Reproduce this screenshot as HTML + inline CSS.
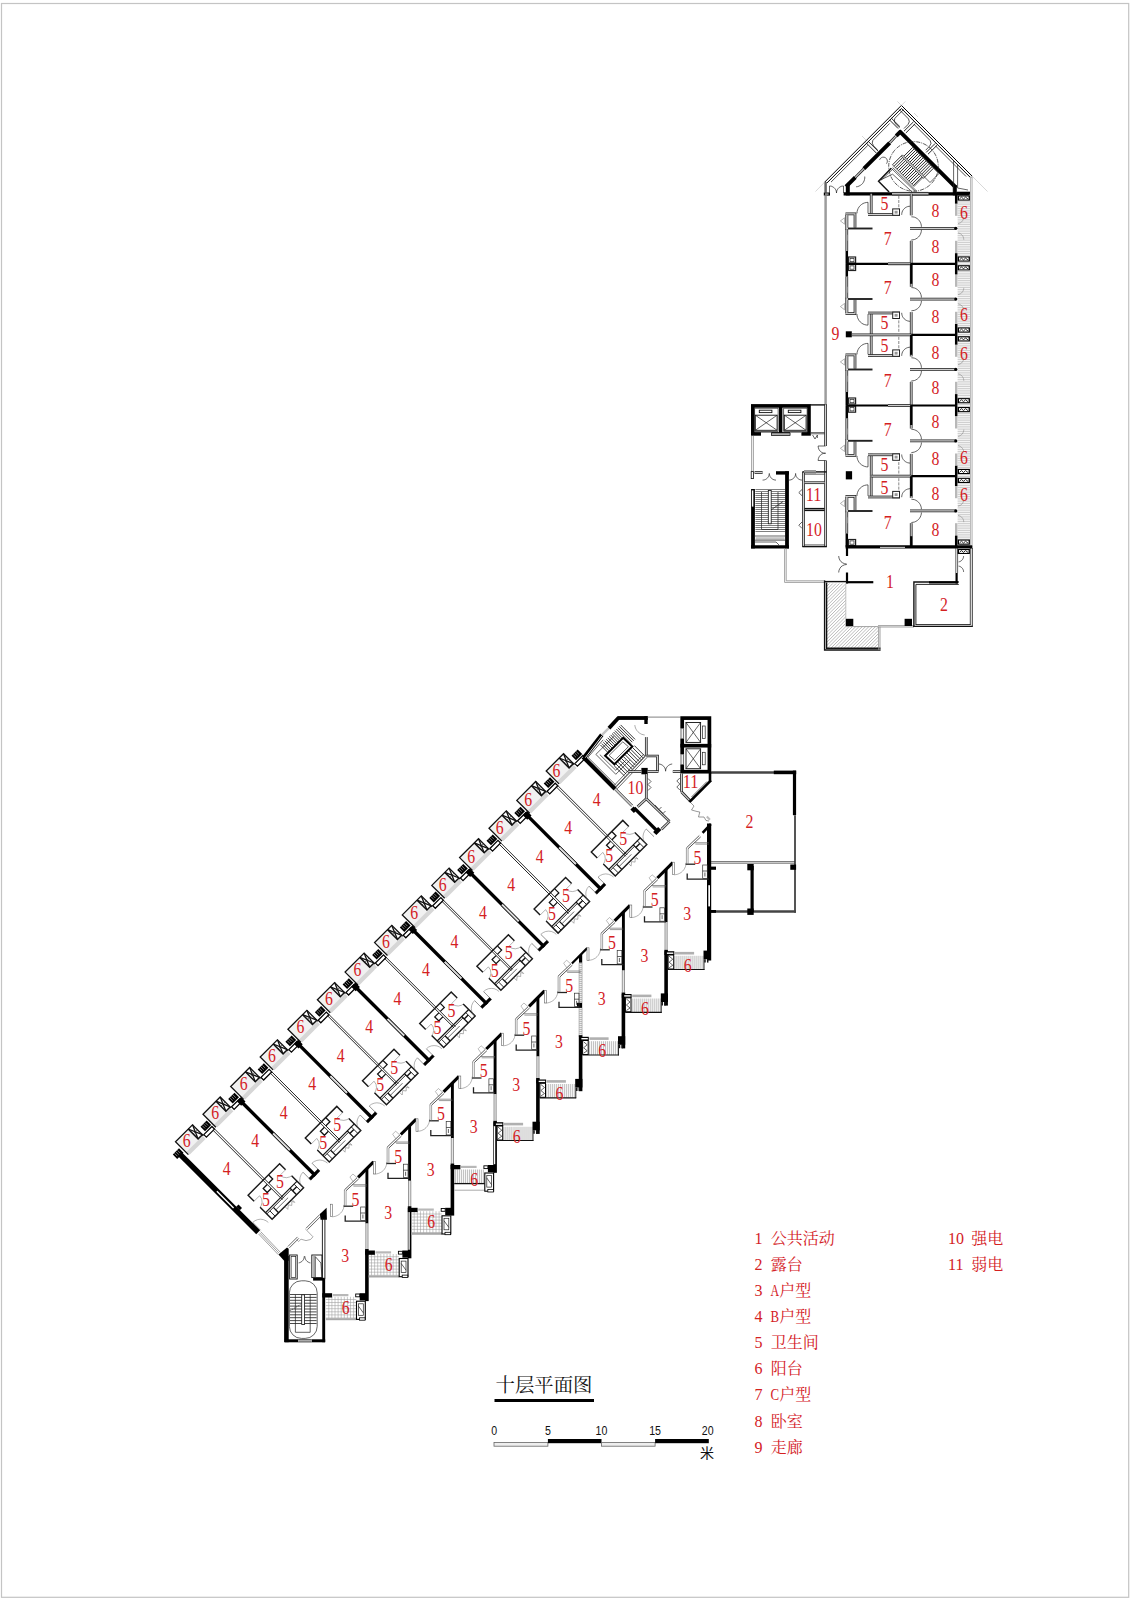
<!DOCTYPE html>
<html lang="zh"><head><meta charset="utf-8"><title>十层平面图</title><style>
html,body{margin:0;padding:0;background:#fff}
svg{display:block}
path,rect,circle{fill:none;stroke-linecap:butt}
.k{stroke:#000;stroke-width:3.2}
.k4{stroke:#000;stroke-width:4}
.k2{stroke:#000;stroke-width:2.2}
.m{stroke:#111;stroke-width:1.4}
.t{stroke:#111;stroke-width:.9}
.t5{stroke:#222;stroke-width:.7}
.g{stroke:#8a8a8a;stroke-width:.8}
.g2{stroke:#a0a0a0;stroke-width:1.6}
.lg{stroke:#bdbdbd;stroke-width:.6}
.w{stroke:#1c1c1c;stroke-width:2.7}
.wi{stroke:#d0d0d0;stroke-width:1.2}
.h{stroke:#6a6a6a;stroke-width:.42}
.hh{stroke:#777;stroke-width:.5}
.bf{fill:#000;stroke:none}
.gf{fill:#c4c4c4;stroke:none}
.wf{fill:#fff;stroke:#111;stroke-width:.8}
.wfill{fill:#fff;stroke:none}
.d{stroke:#333;stroke-width:.6;stroke-dasharray:3 1.2}
.dd{stroke:#222;stroke-width:.75;stroke-dasharray:4 1 1 1}
text{font-family:"Liberation Serif","Noto Serif CJK SC",serif}
.n{fill:#d4211f;font-size:18px;text-anchor:middle}
.lt{fill:#d4211f;font-size:16px}
.ti{fill:#111;font-size:19.4px}
.sc{fill:#111;font-size:13.2px;font-family:"Liberation Sans","Noto Sans CJK SC",sans-serif;text-anchor:middle}
</style></head><body>
<svg width="1131" height="1600" viewBox="0 0 1131 1600">
<rect class="lg" style="stroke:#c4c4c4;stroke-width:1.2" x="1.5" y="3.5" width="1127.2" height="1593.8"/>
<path class="t" style="stroke:#000;stroke-width:1" d="M824.6 182.2L901.4 105.4L972.2 176.2"/>
<path class="t" style="stroke:#000;stroke-width:1" d="M826.8 183.1L901.4 108.5L970 177.1"/>
<path class="g2" style="stroke:#666;stroke-width:2.5" d="M825.6 182L825.6 192.6"/>
<path class="g2" style="stroke:#b0b0b0;stroke-width:2.6" d="M971.3 176.5L971.3 545"/>
<path class="wfill" style="stroke:#ececec;stroke-width:.9" d="M971.3 178L971.3 545"/>
<path class="t" style="stroke:#222;stroke-width:.8" d="M970.3 548L970.3 625"/>
<path class="t" style="stroke:#222;stroke-width:.9" d="M972.3 548L972.3 627"/>
<path class="lg" d="M815.5 191.5L824.6 182.2"/>
<path class="lg" d="M972.2 176.2L987.5 191.5"/>
<path class="lg" d="M897.4 101.4L901.4 105.4"/>
<path class="lg" d="M905.4 101.4L901.4 105.4"/>
<path class="lg" d="M862 136L866 140"/>
<path class="lg" d="M914 113L918 117"/>
<path class="t" d="M866.1 142.8L876.3 153"/>
<path class="t" d="M867.9 141L878.1 151.2"/>
<path class="t" d="M889.4 119.8L898.1 128.5"/>
<path class="t" d="M891.2 118L899.9 126.7"/>
<path class="t" d="M913.5 121.8L904 131.2"/>
<path class="t" d="M915.3 123.6L905.8 133"/>
<path class="t" d="M935.2 143.4L926.2 152.4"/>
<path class="t" d="M937.1 145.2L928 154.2"/>
<path class="t5" style="stroke:#1a1a1a;stroke-width:.75" d="M903.5 109.6L894.9 118.3L894.2 121.1L895.6 123.9L899.5 127.8"/>
<path class="t5" style="stroke:#1a1a1a;stroke-width:.75" d="M889.7 123.4L872.9 140.3L872.2 143.1L873.6 145.9L877.5 149.8"/>
<path class="t5" style="stroke:#1a1a1a;stroke-width:.75" d="M867.8 145.4L831 182.1"/>
<path class="t5" style="stroke:#1a1a1a;stroke-width:.75" d="M899.3 109.6L908.6 119L909.3 121.8L907.9 124.6L904 128.5"/>
<path class="t5" style="stroke:#1a1a1a;stroke-width:.75" d="M913.8 124.1L930.2 140.6L931 143.4L929.5 146.3L925.7 150.2"/>
<path class="t5" style="stroke:#1a1a1a;stroke-width:.75" d="M935.4 145.8L966.1 176.5"/>
<path class="k4" d="M847.8 195.4L847.8 184.9"/>
<path class="k4" d="M846 186.7L855.3 177.4"/>
<path class="k4" d="M863.9 168.7L889.7 142.8"/>
<path class="k4" d="M896.2 135.9L901 131.1"/>
<path class="w" d="M855.3 177.4L863.9 168.7"/>
<path class="wi" d="M855.3 177.4L863.9 168.7"/>
<path class="w" d="M889.7 142.8L896.2 135.9"/>
<path class="wi" d="M889.7 142.8L896.2 135.9"/>
<path class="k4" d="M899.2 130.8L956 187.6"/>
<path class="k4" d="M954.8 185.2L954.8 195.4"/>
<path class="k" d="M843.6 193.8L969.8 193.8"/>
<path class="g2" style="stroke:#bbb;stroke-width:2" d="M892 193.8L928.5 193.8"/>
<path class="t5" d="M892 192.4L928.5 192.4"/>
<path class="t5" d="M892 195.1L928.5 195.1"/>
<rect class="bf" x="823.8" y="192.5" width="6.2" height="3.1"/>
<rect class="wfill" x="825" y="193.6" width="3.6" height="0.9"/>
<path class="t5" d="M829.5 186L830.6 186.1L831.7 186.3L832.7 186.8L833.6 187.3L834.4 188.1L835.2 188.9L835.7 189.8L836.2 190.8L836.4 191.9L836.5 193"/>
<path class="t5" d="M836.5 193L836.6 191.9L836.8 190.8L837.3 189.8L837.8 188.9L838.6 188.1L839.4 187.3L840.3 186.8L841.3 186.3L842.4 186.1L843.5 186"/>
<path class="t5" d="M829.5 193L829.5 186"/>
<path class="t5" d="M843.5 193L843.5 186"/>
<path class="t5" d="M864.7 176.5L864.8 178L864.5 179.5L864.1 180.9L863.4 182.3L862.6 183.5L861.5 184.5L860.3 185.4L859 186.1L857.6 186.6L856.1 186.8"/>
<path class="t5" d="M879.6 159.8L880.3 158.6L881.4 157.7L882.7 157.2L884.1 157.2L885.4 157.7L886.5 158.6L887.1 159.8L887.4 161.1L887.1 162.5L886.5 163.7"/>
<path class="t" d="M903.7 156.4L912.7 147.4M905.2 157.9L914.2 148.9M906.7 159.3L915.7 150.4M908.2 160.8L917.2 151.9M909.7 162.3L918.7 153.3M911.2 163.8L920.1 154.8M912.6 165.3L921.6 156.3M914.1 166.8L923.1 157.8M915.6 168.3L924.6 159.3M917.1 169.7L926.1 160.8M918.6 171.2L927.6 162.2M920.1 172.7L929.0 163.7M921.6 174.2L930.5 165.2M923.0 175.7L932.0 166.7M924.5 177.2L933.5 168.2M901.3 156.0L892.5 164.8M902.8 157.4L894.0 166.3M904.3 158.9L895.5 167.8M905.8 160.4L896.9 169.2M907.3 161.9L898.4 170.7M908.8 163.4L899.9 172.2M910.2 164.9L901.4 173.7M911.7 166.3L902.9 175.2M913.2 167.8L904.4 176.7M914.7 169.3L905.9 178.2M916.2 170.8L907.3 179.6M917.7 172.3L908.8 181.1M919.1 173.8L910.3 182.6M920.6 175.3L911.8 184.1M922.1 176.7L913.3 185.6"/>
<path class="wf" d="M901.3 156L923.5 178.3L924.7 177.2L902.4 154.9Z"/>
<path class="t5" d="M892.5 164.8L914.1 186.4"/>
<path class="t5" d="M912.7 147.4L933.6 168.3"/>
<path class="t5" d="M924.7 177.2L930 182.5L938.9 173.6L933.6 168.3"/>
<path class="t5" d="M914.1 186.4L922.8 177.6"/>
<path class="m" d="M891.2 168.2L878.5 181.3L889.1 192.1"/>
<path class="t5" d="M892.6 169.3L880.6 180.6"/>
<path class="t5" d="M880.6 179.9L892.6 174.2L912.4 192.2"/>
<path class="t5" d="M891.2 168.2L915.3 191.5"/>
<path class="t5" d="M892.6 167.5L916.7 191.2"/>
<circle class="dd" cx="913.5" cy="166.4" r="24.8"/>
<path class="t5" d="M953.6 161L953.6 192"/>
<path class="t5" d="M957.6 165L957.6 188"/>
<path class="t5" d="M957.6 188L968 190"/>
<path class="k2" d="M957 192.8L970 192.8"/>
<path class="g2" style="stroke:#9c9c9c;stroke-width:2.5" d="M825.6 195.6L825.6 404"/>
<path class="h" style="stroke:#a8a8a8;stroke-width:.6" d="M957.6 195.8H970.0M957.6 197.6H970.0M957.6 199.4H970.0M957.6 201.2H970.0M957.6 203.0H970.0M957.6 204.8H970.0M957.6 206.6H970.0M957.6 208.4H970.0M957.6 210.2H970.0M957.6 212.0H970.0M957.6 213.8H970.0M957.6 215.6H970.0M957.6 217.4H970.0M957.6 219.2H970.0M957.6 221.0H970.0M957.6 222.8H970.0M957.6 224.6H970.0M957.6 226.4H970.0M957.6 228.2H970.0M957.6 230.0H970.0M957.6 231.8H970.0M957.6 233.6H970.0M957.6 235.4H970.0M957.6 237.2H970.0M957.6 239.0H970.0M957.6 240.8H970.0M957.6 242.6H970.0M957.6 244.4H970.0M957.6 246.2H970.0M957.6 248.0H970.0M957.6 249.8H970.0M957.6 251.6H970.0M957.6 253.4H970.0M957.6 255.2H970.0M957.6 257.0H970.0M957.6 258.8H970.0M957.6 260.6H970.0M957.6 262.4H970.0M957.6 264.2H970.0M957.6 266.0H970.0M957.6 267.8H970.0M957.6 269.6H970.0M957.6 271.4H970.0M957.6 273.2H970.0M957.6 275.0H970.0M957.6 276.8H970.0M957.6 278.6H970.0M957.6 280.4H970.0M957.6 282.2H970.0M957.6 284.0H970.0M957.6 285.8H970.0M957.6 287.6H970.0M957.6 289.4H970.0M957.6 291.2H970.0M957.6 293.0H970.0M957.6 294.8H970.0M957.6 296.6H970.0M957.6 298.4H970.0M957.6 300.2H970.0M957.6 302.0H970.0M957.6 303.8H970.0M957.6 305.6H970.0M957.6 307.4H970.0M957.6 309.2H970.0M957.6 311.0H970.0M957.6 312.8H970.0M957.6 314.6H970.0M957.6 316.4H970.0M957.6 318.2H970.0M957.6 320.0H970.0M957.6 321.8H970.0M957.6 323.6H970.0M957.6 325.4H970.0M957.6 327.2H970.0M957.6 329.0H970.0M957.6 330.8H970.0M957.6 332.6H970.0M957.6 334.4H970.0M957.6 336.2H970.0M957.6 338.0H970.0M957.6 339.8H970.0M957.6 341.6H970.0M957.6 343.4H970.0M957.6 345.2H970.0M957.6 347.0H970.0M957.6 348.8H970.0M957.6 350.6H970.0M957.6 352.4H970.0M957.6 354.2H970.0M957.6 356.0H970.0M957.6 357.8H970.0M957.6 359.6H970.0M957.6 361.4H970.0M957.6 363.2H970.0M957.6 365.0H970.0M957.6 366.8H970.0M957.6 368.6H970.0M957.6 370.4H970.0M957.6 372.2H970.0M957.6 374.0H970.0M957.6 375.8H970.0M957.6 377.6H970.0M957.6 379.4H970.0M957.6 381.2H970.0M957.6 383.0H970.0M957.6 384.8H970.0M957.6 386.6H970.0M957.6 388.4H970.0M957.6 390.2H970.0M957.6 392.0H970.0M957.6 393.8H970.0M957.6 395.6H970.0M957.6 397.4H970.0M957.6 399.2H970.0M957.6 401.0H970.0M957.6 402.8H970.0M957.6 404.6H970.0M957.6 406.4H970.0M957.6 408.2H970.0M957.6 410.0H970.0M957.6 411.8H970.0M957.6 413.6H970.0M957.6 415.4H970.0M957.6 417.2H970.0M957.6 419.0H970.0M957.6 420.8H970.0M957.6 422.6H970.0M957.6 424.4H970.0M957.6 426.2H970.0M957.6 428.0H970.0M957.6 429.8H970.0M957.6 431.6H970.0M957.6 433.4H970.0M957.6 435.2H970.0M957.6 437.0H970.0M957.6 438.8H970.0M957.6 440.6H970.0M957.6 442.4H970.0M957.6 444.2H970.0M957.6 446.0H970.0M957.6 447.8H970.0M957.6 449.6H970.0M957.6 451.4H970.0M957.6 453.2H970.0M957.6 455.0H970.0M957.6 456.8H970.0M957.6 458.6H970.0M957.6 460.4H970.0M957.6 462.2H970.0M957.6 464.0H970.0M957.6 465.8H970.0M957.6 467.6H970.0M957.6 469.4H970.0M957.6 471.2H970.0M957.6 473.0H970.0M957.6 474.8H970.0M957.6 476.6H970.0M957.6 478.4H970.0M957.6 480.2H970.0M957.6 482.0H970.0M957.6 483.8H970.0M957.6 485.6H970.0M957.6 487.4H970.0M957.6 489.2H970.0M957.6 491.0H970.0M957.6 492.8H970.0M957.6 494.6H970.0M957.6 496.4H970.0M957.6 498.2H970.0M957.6 500.0H970.0M957.6 501.8H970.0M957.6 503.6H970.0M957.6 505.4H970.0M957.6 507.2H970.0M957.6 509.0H970.0M957.6 510.8H970.0M957.6 512.6H970.0M957.6 514.4H970.0M957.6 516.2H970.0M957.6 518.0H970.0M957.6 519.8H970.0M957.6 521.6H970.0M957.6 523.4H970.0M957.6 525.2H970.0M957.6 527.0H970.0M957.6 528.8H970.0M957.6 530.6H970.0M957.6 532.4H970.0M957.6 534.2H970.0M957.6 536.0H970.0M957.6 537.8H970.0M957.6 539.6H970.0M957.6 541.4H970.0M957.6 543.2H970.0M957.6 545.0H970.0"/>
<path class="w" d="M871.2 193.8L871.2 215.3"/>
<path class="wi" d="M871.2 193.8L871.2 215.3"/>
<path class="w" d="M868 214.5L900 214.5"/>
<path class="wi" d="M868 214.5L900 214.5"/>
<path class="d" d="M898.8 195.8L898.8 208.8"/>
<rect class="wf" style="stroke:#222;stroke-width:1" x="892.7" y="208.9" width="6.8" height="6.4"/>
<rect class="gf" style="fill:#999" x="894.6" y="210.8" width="3" height="2.8"/>
<path class="t5" d="M857 213.3L857.1 211.6L857.5 210L858.2 208.4L859.1 206.9L860.2 205.6L861.5 204.5L863 203.5L864.6 202.9L866.3 202.5L868 202.3"/>
<path class="t5" d="M868 213.3L868 202.3"/>
<path class="t5" d="M901.7 214.8L901.8 213.4L902.1 212.1L902.6 210.8L903.3 209.7L904.2 208.7L905.2 207.8L906.4 207.1L907.6 206.6L909 206.3L910.3 206.2"/>
<path class="w" d="M911.2 193.8L911.2 215.3"/>
<path class="wi" d="M911.2 193.8L911.2 215.3"/>
<path class="w" d="M911.2 240.8L911.2 263.8"/>
<path class="wi" d="M911.2 240.8L911.2 263.8"/>
<path class="t5" d="M911.4 216.8L913 216.9L914.5 217.2L915.9 217.8L917.3 218.7L918.5 219.7L919.5 220.9L920.3 222.2L920.9 223.7L921.3 225.2L921.4 226.8"/>
<path class="t5" d="M921.4 229.9L921.3 231.5L920.9 233L920.3 234.5L919.5 235.8L918.5 237L917.3 238L915.9 238.9L914.5 239.5L913 239.8L911.4 239.9"/>
<path class="w" d="M910 228.3L955.8 228.3"/>
<path class="wi" d="M910 228.3L955.8 228.3"/>
<circle class="bf" cx="955.8" cy="228.3" r="1.6"/>
<path class="w" d="M845.5 213.9L855 213.9L855 227.8"/>
<path class="wi" d="M845.5 213.9L855 213.9L855 227.8"/>
<path class="g2" style="stroke:#c8c8c8;stroke-width:2" d="M846.7 214.8L846.7 229.8"/>
<path class="t5" d="M845.6 214.8L845.6 229.8"/>
<path class="t5" d="M847.9 215.2L847.9 227.8"/>
<path class="t5" style="stroke:#666;stroke-width:.5" d="M844.6 217.8L840.4 220.9L844.6 224.2Z"/>
<path class="m" style="stroke:#222;stroke-width:1.9" d="M848 228.5L872.5 228.5"/>
<path class="w" d="M846.8 229.2L846.8 251"/>
<path class="wi" d="M846.8 229.2L846.8 251"/>
<path class="k2" style="stroke-width:2.5" d="M846.8 251L846.8 263.8"/>
<path class="g2" style="stroke:#aaa;stroke-width:1.4" d="M846.8 234.8L846.8 240.8"/>
<rect class="t" style="stroke:#222;stroke-width:1.2" x="848.4" y="257" width="7.2" height="6"/>
<rect class="t5" x="850" y="258.4" width="4" height="3.3"/>
<path class="k2" style="stroke-width:2.5" d="M956.2 193.8L956.2 203.8"/>
<path class="g2" style="stroke:#b8b8b8;stroke-width:2.4" d="M956.2 203.8L956.2 215.8"/>
<path class="g2" style="stroke:#b8b8b8;stroke-width:2.4" d="M956.2 240.8L956.2 253.2"/>
<path class="k2" style="stroke-width:2.5" d="M956.2 253.2L956.2 263.8"/>
<path class="t5" style="stroke:#777;stroke-width:.5" d="M963.8 216.8L963.7 217.7L963.5 218.7L963.2 219.6L962.7 220.5L962.2 221.2L961.5 222L960.7 222.6L959.9 223L959 223.4L958 223.6"/>
<path class="t5" style="stroke:#777;stroke-width:.5" d="M958 232.9L959 233.1L959.9 233.5L960.7 233.9L961.5 234.5L962.2 235.3L962.7 236L963.2 236.9L963.5 237.8L963.7 238.8L963.8 239.8"/>
<path class="w" d="M871.2 334.8L871.2 312.1"/>
<path class="wi" d="M871.2 334.8L871.2 312.1"/>
<path class="w" d="M868 313L900 313"/>
<path class="wi" d="M868 313L900 313"/>
<path class="d" d="M898.8 331.8L898.8 318.8"/>
<rect class="wf" style="stroke:#222;stroke-width:1" x="892.7" y="312.1" width="6.8" height="6.4"/>
<rect class="gf" style="fill:#999" x="894.6" y="313.9" width="3" height="2.8"/>
<path class="t5" d="M857 314.1L857.1 315.9L857.5 317.5L858.2 319.1L859.1 320.6L860.2 321.9L861.5 323L863 324L864.6 324.6L866.3 325L868 325.1"/>
<path class="t5" d="M868 314.1L868 325.1"/>
<path class="t5" d="M901.7 312.8L901.8 314.1L902.1 315.4L902.6 316.7L903.3 317.8L904.2 318.8L905.2 319.7L906.4 320.4L907.6 320.9L909 321.2L910.3 321.4"/>
<path class="w" d="M911.2 334.8L911.2 312.1"/>
<path class="wi" d="M911.2 334.8L911.2 312.1"/>
<path class="w" d="M911.2 286.8L911.2 263.8"/>
<path class="wi" d="M911.2 286.8L911.2 263.8"/>
<path class="t5" d="M911.4 310.8L913 310.6L914.5 310.3L915.9 309.7L917.3 308.8L918.5 307.8L919.5 306.6L920.3 305.3L920.9 303.8L921.3 302.3L921.4 300.8"/>
<path class="t5" d="M921.4 297.6L921.3 296L920.9 294.5L920.3 293L919.5 291.7L918.5 290.5L917.3 289.5L915.9 288.6L914.5 288L913 287.7L911.4 287.6"/>
<path class="w" d="M910 299.1L955.8 299.1"/>
<path class="wi" d="M910 299.1L955.8 299.1"/>
<circle class="bf" cx="955.8" cy="299.1" r="1.6"/>
<path class="w" d="M845.5 313.6L855 313.6L855 299.8"/>
<path class="wi" d="M845.5 313.6L855 313.6L855 299.8"/>
<path class="g2" style="stroke:#c8c8c8;stroke-width:2" d="M846.7 312.8L846.7 297.8"/>
<path class="t5" d="M845.6 312.8L845.6 297.8"/>
<path class="t5" d="M847.9 312.4L847.9 299.8"/>
<path class="t5" style="stroke:#666;stroke-width:.5" d="M844.6 309.8L840.4 306.6L844.6 303.4Z"/>
<path class="m" style="stroke:#222;stroke-width:1.9" d="M848 299L872.5 299"/>
<path class="w" d="M846.8 298.2L846.8 276.5"/>
<path class="wi" d="M846.8 298.2L846.8 276.5"/>
<path class="k2" style="stroke-width:2.5" d="M846.8 276.5L846.8 263.8"/>
<path class="g2" style="stroke:#aaa;stroke-width:1.4" d="M846.8 292.8L846.8 286.8"/>
<rect class="t" style="stroke:#222;stroke-width:1.2" x="848.4" y="264.5" width="7.2" height="6"/>
<rect class="t5" x="850" y="265.9" width="4" height="3.3"/>
<path class="k2" style="stroke-width:2.5" d="M956.2 334.8L956.2 323.8"/>
<path class="g2" style="stroke:#b8b8b8;stroke-width:2.4" d="M956.2 323.8L956.2 311.8"/>
<path class="g2" style="stroke:#b8b8b8;stroke-width:2.4" d="M956.2 286.8L956.2 274.4"/>
<path class="k2" style="stroke-width:2.5" d="M956.2 274.4L956.2 263.8"/>
<path class="t5" style="stroke:#777;stroke-width:.5" d="M963.8 310.8L963.7 309.8L963.5 308.8L963.2 307.9L962.7 307L962.2 306.3L961.5 305.5L960.7 304.9L959.9 304.5L959 304.1L958 303.9"/>
<path class="t5" style="stroke:#777;stroke-width:.5" d="M958 294.6L959 294.4L959.9 294L960.7 293.6L961.5 293L962.2 292.2L962.7 291.5L963.2 290.6L963.5 289.7L963.7 288.7L963.8 287.8"/>
<path class="w" d="M871.2 334.8L871.2 356.4"/>
<path class="wi" d="M871.2 334.8L871.2 356.4"/>
<path class="w" d="M868 355.5L900 355.5"/>
<path class="wi" d="M868 355.5L900 355.5"/>
<path class="d" d="M898.8 336.8L898.8 349.8"/>
<rect class="wf" style="stroke:#222;stroke-width:1" x="892.7" y="349.9" width="6.8" height="6.4"/>
<rect class="gf" style="fill:#999" x="894.6" y="351.8" width="3" height="2.8"/>
<path class="t5" d="M857 354.4L857.1 352.6L857.5 351L858.2 349.4L859.1 347.9L860.2 346.6L861.5 345.5L863 344.5L864.6 343.9L866.3 343.5L868 343.4"/>
<path class="t5" d="M868 354.4L868 343.4"/>
<path class="t5" d="M901.7 355.8L901.8 354.4L902.1 353.1L902.6 351.8L903.3 350.7L904.2 349.7L905.2 348.8L906.4 348.1L907.6 347.6L909 347.3L910.3 347.1"/>
<path class="w" d="M911.2 334.8L911.2 356.4"/>
<path class="wi" d="M911.2 334.8L911.2 356.4"/>
<path class="w" d="M911.2 381.8L911.2 405.5"/>
<path class="wi" d="M911.2 381.8L911.2 405.5"/>
<path class="t5" d="M911.4 357.8L913 357.9L914.5 358.2L915.9 358.8L917.3 359.7L918.5 360.7L919.5 361.9L920.3 363.2L920.9 364.7L921.3 366.2L921.4 367.8"/>
<path class="t5" d="M921.4 370.9L921.3 372.5L920.9 374L920.3 375.5L919.5 376.8L918.5 378L917.3 379L915.9 379.9L914.5 380.5L913 380.8L911.4 380.9"/>
<path class="w" d="M910 369.4L955.8 369.4"/>
<path class="wi" d="M910 369.4L955.8 369.4"/>
<circle class="bf" cx="955.8" cy="369.4" r="1.6"/>
<path class="w" d="M845.5 354.9L855 354.9L855 368.8"/>
<path class="wi" d="M845.5 354.9L855 354.9L855 368.8"/>
<path class="g2" style="stroke:#c8c8c8;stroke-width:2" d="M846.7 355.8L846.7 370.8"/>
<path class="t5" d="M845.6 355.8L845.6 370.8"/>
<path class="t5" d="M847.9 356.1L847.9 368.8"/>
<path class="t5" style="stroke:#666;stroke-width:.5" d="M844.6 358.8L840.4 361.9L844.6 365.1Z"/>
<path class="m" style="stroke:#222;stroke-width:1.9" d="M848 369.5L872.5 369.5"/>
<path class="w" d="M846.8 370.2L846.8 392"/>
<path class="wi" d="M846.8 370.2L846.8 392"/>
<path class="k2" style="stroke-width:2.5" d="M846.8 392L846.8 405.5"/>
<path class="g2" style="stroke:#aaa;stroke-width:1.4" d="M846.8 375.8L846.8 381.8"/>
<rect class="t" style="stroke:#222;stroke-width:1.2" x="848.4" y="398" width="7.2" height="6"/>
<rect class="t5" x="850" y="399.4" width="4" height="3.3"/>
<path class="k2" style="stroke-width:2.5" d="M956.2 334.8L956.2 344.8"/>
<path class="g2" style="stroke:#b8b8b8;stroke-width:2.4" d="M956.2 344.8L956.2 356.8"/>
<path class="g2" style="stroke:#b8b8b8;stroke-width:2.4" d="M956.2 381.8L956.2 394.1"/>
<path class="k2" style="stroke-width:2.5" d="M956.2 394.1L956.2 405.5"/>
<path class="t5" style="stroke:#777;stroke-width:.5" d="M963.8 357.8L963.7 358.7L963.5 359.7L963.2 360.6L962.7 361.5L962.2 362.2L961.5 363L960.7 363.6L959.9 364L959 364.4L958 364.6"/>
<path class="t5" style="stroke:#777;stroke-width:.5" d="M958 373.9L959 374.1L959.9 374.5L960.7 374.9L961.5 375.5L962.2 376.3L962.7 377L963.2 377.9L963.5 378.8L963.7 379.8L963.8 380.8"/>
<path class="w" d="M871.2 476.2L871.2 453.9"/>
<path class="wi" d="M871.2 476.2L871.2 453.9"/>
<path class="w" d="M868 454.8L900 454.8"/>
<path class="wi" d="M868 454.8L900 454.8"/>
<path class="d" d="M898.8 473.5L898.8 460.5"/>
<rect class="wf" style="stroke:#222;stroke-width:1" x="892.7" y="453.9" width="6.8" height="6.4"/>
<rect class="gf" style="fill:#999" x="894.6" y="455.7" width="3" height="2.8"/>
<path class="t5" d="M857 455.9L857.1 457.6L857.5 459.3L858.2 460.9L859.1 462.4L860.2 463.7L861.5 464.8L863 465.7L864.6 466.4L866.3 466.8L868 466.9"/>
<path class="t5" d="M868 455.9L868 466.9"/>
<path class="t5" d="M901.7 454.5L901.8 455.8L902.1 457.2L902.6 458.4L903.3 459.6L904.2 460.6L905.2 461.5L906.4 462.2L907.6 462.7L909 463L910.3 463.1"/>
<path class="w" d="M911.2 476.2L911.2 453.9"/>
<path class="wi" d="M911.2 476.2L911.2 453.9"/>
<path class="w" d="M911.2 428.5L911.2 405.5"/>
<path class="wi" d="M911.2 428.5L911.2 405.5"/>
<path class="t5" d="M911.4 452.5L913 452.4L914.5 452L915.9 451.4L917.3 450.6L918.5 449.6L919.5 448.4L920.3 447L920.9 445.6L921.3 444.1L921.4 442.5"/>
<path class="t5" d="M921.4 439.3L921.3 437.7L920.9 436.2L920.3 434.8L919.5 433.4L918.5 432.2L917.3 431.2L915.9 430.4L914.5 429.8L913 429.4L911.4 429.3"/>
<path class="w" d="M910 440.9L955.8 440.9"/>
<path class="wi" d="M910 440.9L955.8 440.9"/>
<circle class="bf" cx="955.8" cy="440.9" r="1.6"/>
<path class="w" d="M845.5 455.3L855 455.3L855 441.5"/>
<path class="wi" d="M845.5 455.3L855 455.3L855 441.5"/>
<path class="g2" style="stroke:#c8c8c8;stroke-width:2" d="M846.7 454.5L846.7 439.5"/>
<path class="t5" d="M845.6 454.5L845.6 439.5"/>
<path class="t5" d="M847.9 454.1L847.9 441.5"/>
<path class="t5" style="stroke:#666;stroke-width:.5" d="M844.6 451.5L840.4 448.3L844.6 445.1Z"/>
<path class="m" style="stroke:#222;stroke-width:1.9" d="M848 440.8L872.5 440.8"/>
<path class="w" d="M846.8 440L846.8 418.2"/>
<path class="wi" d="M846.8 440L846.8 418.2"/>
<path class="k2" style="stroke-width:2.5" d="M846.8 418.2L846.8 405.5"/>
<path class="g2" style="stroke:#aaa;stroke-width:1.4" d="M846.8 434.5L846.8 428.5"/>
<rect class="t" style="stroke:#222;stroke-width:1.2" x="848.4" y="406.2" width="7.2" height="6"/>
<rect class="t5" x="850" y="407.6" width="4" height="3.3"/>
<path class="k2" style="stroke-width:2.5" d="M956.2 476.2L956.2 465.5"/>
<path class="g2" style="stroke:#b8b8b8;stroke-width:2.4" d="M956.2 465.5L956.2 453.5"/>
<path class="g2" style="stroke:#b8b8b8;stroke-width:2.4" d="M956.2 428.5L956.2 416.1"/>
<path class="k2" style="stroke-width:2.5" d="M956.2 416.1L956.2 405.5"/>
<path class="t5" style="stroke:#777;stroke-width:.5" d="M963.8 452.5L963.7 451.5L963.5 450.6L963.2 449.7L962.7 448.8L962.2 448L961.5 447.3L960.7 446.7L959.9 446.2L959 445.8L958 445.6"/>
<path class="t5" style="stroke:#777;stroke-width:.5" d="M958 436.4L959 436.2L959.9 435.8L960.7 435.3L961.5 434.7L962.2 434L962.7 433.2L963.2 432.3L963.5 431.4L963.7 430.5L963.8 429.5"/>
<path class="w" d="M871.2 476.2L871.2 497.9"/>
<path class="wi" d="M871.2 476.2L871.2 497.9"/>
<path class="w" d="M868 497L900 497"/>
<path class="wi" d="M868 497L900 497"/>
<path class="d" d="M898.8 478.2L898.8 491.2"/>
<rect class="wf" style="stroke:#222;stroke-width:1" x="892.7" y="491.4" width="6.8" height="6.4"/>
<rect class="gf" style="fill:#999" x="894.6" y="493.2" width="3" height="2.8"/>
<path class="t5" d="M857 495.9L857.1 494.1L857.5 492.5L858.2 490.9L859.1 489.4L860.2 488.1L861.5 487L863 486L864.6 485.4L866.3 485L868 484.9"/>
<path class="t5" d="M868 495.9L868 484.9"/>
<path class="t5" d="M901.7 497.2L901.8 495.9L902.1 494.6L902.6 493.3L903.3 492.2L904.2 491.2L905.2 490.3L906.4 489.6L907.6 489.1L909 488.8L910.3 488.6"/>
<path class="w" d="M911.2 476.2L911.2 497.9"/>
<path class="wi" d="M911.2 476.2L911.2 497.9"/>
<path class="w" d="M911.2 523.2L911.2 546.8"/>
<path class="wi" d="M911.2 523.2L911.2 546.8"/>
<path class="t5" d="M911.4 499.2L913 499.4L914.5 499.7L915.9 500.3L917.3 501.2L918.5 502.2L919.5 503.4L920.3 504.7L920.9 506.2L921.3 507.7L921.4 509.2"/>
<path class="t5" d="M921.4 512.5L921.3 514L920.9 515.5L920.3 517L919.5 518.3L918.5 519.5L917.3 520.5L915.9 521.4L914.5 522L913 522.3L911.4 522.5"/>
<path class="w" d="M910 510.9L955.8 510.9"/>
<path class="wi" d="M910 510.9L955.8 510.9"/>
<circle class="bf" cx="955.8" cy="510.9" r="1.6"/>
<path class="w" d="M845.5 496.4L855 496.4L855 510.2"/>
<path class="wi" d="M845.5 496.4L855 496.4L855 510.2"/>
<path class="g2" style="stroke:#c8c8c8;stroke-width:2" d="M846.7 497.2L846.7 512.2"/>
<path class="t5" d="M845.6 497.2L845.6 512.2"/>
<path class="t5" d="M847.9 497.6L847.9 510.2"/>
<path class="t5" style="stroke:#666;stroke-width:.5" d="M844.6 500.2L840.4 503.4L844.6 506.6Z"/>
<path class="m" style="stroke:#222;stroke-width:1.9" d="M848 511L872.5 511"/>
<path class="w" d="M846.8 511.8L846.8 533.5"/>
<path class="wi" d="M846.8 511.8L846.8 533.5"/>
<path class="k2" style="stroke-width:2.5" d="M846.8 533.5L846.8 546.8"/>
<path class="g2" style="stroke:#aaa;stroke-width:1.4" d="M846.8 517.2L846.8 523.2"/>
<rect class="t" style="stroke:#222;stroke-width:1.2" x="848.4" y="539.5" width="7.2" height="6"/>
<rect class="t5" x="850" y="540.9" width="4" height="3.3"/>
<path class="k2" style="stroke-width:2.5" d="M956.2 476.2L956.2 486.2"/>
<path class="g2" style="stroke:#b8b8b8;stroke-width:2.4" d="M956.2 486.2L956.2 498.2"/>
<path class="g2" style="stroke:#b8b8b8;stroke-width:2.4" d="M956.2 523.2L956.2 535.6"/>
<path class="k2" style="stroke-width:2.5" d="M956.2 535.6L956.2 546.8"/>
<path class="t5" style="stroke:#777;stroke-width:.5" d="M963.8 499.2L963.7 500.2L963.5 501.2L963.2 502.1L962.7 503L962.2 503.7L961.5 504.5L960.7 505.1L959.9 505.5L959 505.9L958 506.1"/>
<path class="t5" style="stroke:#777;stroke-width:.5" d="M958 515.4L959 515.6L959.9 516L960.7 516.4L961.5 517L962.2 517.8L962.7 518.5L963.2 519.4L963.5 520.3L963.7 521.3L963.8 522.2"/>
<rect class="bf" x="957.6" y="195.4" width="12.3" height="5.2"/>
<rect class="wfill" x="959" y="196.5" width="9.6" height="3"/>
<path class="m" style="stroke-width:.9" d="M959.4 199L961.5 197.1L963.5 199L965.5 197.1L968 199"/>
<rect class="bf" x="957.6" y="256.4" width="12.3" height="5.2"/>
<rect class="wfill" x="959" y="257.5" width="9.6" height="3"/>
<path class="m" style="stroke-width:.9" d="M959.4 260L961.5 258.1L963.5 260L965.5 258.1L968 260"/>
<rect class="bf" x="957.6" y="265.2" width="12.3" height="5.2"/>
<rect class="wfill" x="959" y="266.4" width="9.6" height="3"/>
<path class="m" style="stroke-width:.9" d="M959.4 268.9L961.5 266.9L963.5 268.9L965.5 266.9L968 268.9"/>
<rect class="bf" x="957.6" y="327.4" width="12.3" height="5.2"/>
<rect class="wfill" x="959" y="328.5" width="9.6" height="3"/>
<path class="m" style="stroke-width:.9" d="M959.4 331L961.5 329.1L963.5 331L965.5 329.1L968 331"/>
<rect class="bf" x="957.6" y="336.2" width="12.3" height="5.2"/>
<rect class="wfill" x="959" y="337.4" width="9.6" height="3"/>
<path class="m" style="stroke-width:.9" d="M959.4 339.9L961.5 337.9L963.5 339.9L965.5 337.9L968 339.9"/>
<rect class="bf" x="957.6" y="398.1" width="12.3" height="5.2"/>
<rect class="wfill" x="959" y="399.2" width="9.6" height="3"/>
<path class="m" style="stroke-width:.9" d="M959.4 401.7L961.5 399.8L963.5 401.7L965.5 399.8L968 401.7"/>
<rect class="bf" x="957.6" y="407" width="12.3" height="5.2"/>
<rect class="wfill" x="959" y="408.1" width="9.6" height="3"/>
<path class="m" style="stroke-width:.9" d="M959.4 410.6L961.5 408.7L963.5 410.6L965.5 408.7L968 410.6"/>
<rect class="bf" x="957.6" y="468.9" width="12.3" height="5.2"/>
<rect class="wfill" x="959" y="470" width="9.6" height="3"/>
<path class="m" style="stroke-width:.9" d="M959.4 472.5L961.5 470.6L963.5 472.5L965.5 470.6L968 472.5"/>
<rect class="bf" x="957.6" y="477.8" width="12.3" height="5.2"/>
<rect class="wfill" x="959" y="478.9" width="9.6" height="3"/>
<path class="m" style="stroke-width:.9" d="M959.4 481.4L961.5 479.4L963.5 481.4L965.5 479.4L968 481.4"/>
<rect class="bf" x="957.6" y="539.5" width="12.3" height="5.2"/>
<rect class="wfill" x="959" y="540.6" width="9.6" height="3"/>
<path class="m" style="stroke-width:.9" d="M959.4 543.1L961.5 541.2L963.5 543.1L965.5 541.2L968 543.1"/>
<path class="k2" d="M846.2 263.8L956.8 263.8"/>
<path class="g2" style="stroke:#ccc;stroke-width:1.6" d="M888 263.8L910.3 263.8"/>
<path class="t5" d="M888 262.8L910.3 262.8"/>
<path class="t5" d="M888 264.8L910.3 264.8"/>
<path class="k2" d="M911.2 263.8L911.2 283.8"/>
<path class="k2" d="M911.2 334.8L956.8 334.8"/>
<path class="w" d="M852 334.8L911.2 334.8"/>
<path class="wi" d="M852 334.8L911.2 334.8"/>
<rect class="bf" x="845.8" y="331.3" width="6" height="6"/>
<path class="k2" d="M911.2 334.8L911.2 354.8"/>
<path class="k2" d="M846.2 405.5L956.8 405.5"/>
<path class="g2" style="stroke:#ccc;stroke-width:1.6" d="M888 405.5L910.3 405.5"/>
<path class="t5" d="M888 404.5L910.3 404.5"/>
<path class="t5" d="M888 406.5L910.3 406.5"/>
<path class="k2" d="M911.2 405.5L911.2 425"/>
<path class="k2" d="M911.2 476.2L956.8 476.2"/>
<path class="w" d="M871.3 476.2L911.2 476.2"/>
<path class="wi" d="M871.3 476.2L911.2 476.2"/>
<rect class="bf" x="845.8" y="471.2" width="6.3" height="8.2"/>
<path class="k2" d="M911.2 476.2L911.2 496.2"/>
<path class="k2" d="M911.2 536.2L911.2 546.8"/>
<path class="k" style="stroke-width:3.3" d="M845.6 546.8L972.4 546.8"/>
<path class="g2" style="stroke:#bbb;stroke-width:1.2" d="M880 547.4L905 547.4"/>
<rect class="k" style="stroke-width:3.6" x="752.8" y="405.9" width="56.2" height="28"/>
<path class="k" style="stroke-width:3.4" d="M780.7 405L780.7 434"/>
<rect class="wfill" x="761" y="431.6" width="10.2" height="4.6"/>
<rect class="wfill" x="790.2" y="431.6" width="11.2" height="4.6"/>
<path class="t5" d="M761 432.2L771.2 432.2"/>
<path class="t5" d="M790.2 432.2L801.4 432.2"/>
<rect class="gf" x="771.4" y="433" width="18.6" height="2.2"/>
<rect class="t5" x="771.4" y="433" width="18.6" height="2.2"/>
<rect class="t5" x="754.7" y="408.2" width="23.4" height="23.2"/>
<rect class="t" x="755.3" y="415.2" width="21.8" height="15.1"/>
<path class="t5" d="M755.3 415.2L777.1 430.3"/>
<path class="t5" d="M777.1 415.2L755.3 430.3"/>
<rect class="t" x="759.3" y="410.2" width="12.6" height="2.4"/>
<rect class="t5" x="783.7" y="408.2" width="23.4" height="23.2"/>
<rect class="t" x="784.3" y="415.2" width="21.8" height="15.1"/>
<path class="t5" d="M784.3 415.2L806.1 430.3"/>
<path class="t5" d="M806.1 415.2L784.3 430.3"/>
<rect class="t" x="788.3" y="410.2" width="12.6" height="2.4"/>
<path class="m" d="M810 404.9L826.8 404.9"/>
<path class="w" d="M825.6 404.5L825.6 446"/>
<path class="wi" d="M825.6 404.5L825.6 446"/>
<path class="w" d="M825.6 460.5L825.6 547"/>
<path class="wi" d="M825.6 460.5L825.6 547"/>
<path class="t5" d="M810.8 432.6L824.6 432.6"/>
<path class="t5" d="M810.8 433.8L824.6 433.8"/>
<path class="t5" d="M812.6 435L815 439L817.4 435"/>
<path class="t5" d="M817.4 435L817.4 438"/>
<path class="t5" d="M825.6 453.5L823.7 453.2L821.9 452.5L820.3 451.3L819.1 449.8L818.4 447.9L818.1 446"/>
<path class="t5" d="M818.1 460.5L818.4 458.6L819.1 456.8L820.3 455.2L821.9 454L823.7 453.3L825.6 453"/>
<path class="t5" d="M825.6 446L818.1 446"/>
<path class="t5" d="M825.6 460.5L818.1 460.5"/>
<path class="g" d="M751.6 436L751.6 472"/>
<path class="g" d="M753.4 436L753.4 472"/>
<path class="k" style="stroke-width:3.8" d="M753 489L753 548.4"/>
<rect class="wf" x="751.2" y="471.6" width="2.2" height="7"/>
<rect class="wf" x="751.4" y="490" width="2.4" height="17"/>
<path class="k" d="M751 546.8L789 546.8"/>
<path class="k" style="stroke-width:3.8" d="M787 471.3L787 548.4"/>
<path class="k" style="stroke-width:3.4" d="M776 472.9L788.9 472.9"/>
<path class="w" d="M754.6 472.5L762.6 472.5"/>
<path class="wi" d="M754.6 472.5L762.6 472.5"/>
<path class="t5" d="M769.2 473.5L769.1 474.5L768.9 475.5L768.5 476.5L767.9 477.4L767.3 478.2L766.5 478.8L765.6 479.4L764.6 479.8L763.6 480L762.6 480.1"/>
<path class="t5" d="M776 480.1L775 480L774 479.8L773 479.4L772.1 478.8L771.3 478.2L770.7 477.4L770.1 476.5L769.7 475.5L769.5 474.5L769.4 473.5"/>
<path class="t5" style="stroke:#3a3a3a;stroke-width:.65" d="M755.4 489.5H785M755.4 491.5H785M755.4 493.5H785M755.4 495.5H785M755.4 497.5H785M755.4 499.5H785M755.4 501.5H785M755.4 503.5H785M755.4 505.5H785M755.4 507.5H785M755.4 509.5H785M755.4 511.5H785M755.4 513.5H785M755.4 515.5H785M755.4 517.5H785M755.4 519.5H785M755.4 521.5H785M755.4 523.5H785M755.4 525.5H785M755.4 527.5H785M755.4 529.5H785M755.4 531.5H785"/>
<rect class="wf" x="768.3" y="490.4" width="2.9" height="33.4"/>
<path class="t5" d="M761.5 492L761.5 529.5L778 529.5L778 492"/>
<path class="t5" d="M755 536L785 536"/>
<rect class="gf" x="755.6" y="537.2" width="29" height="2.6"/>
<path class="t5" d="M755 540.2L785 540.2"/>
<path class="t5" d="M755 542L776 542L779 545"/>
<path class="t5" d="M771 510L783 501.5"/>
<path class="t5" d="M795.6 473.5L795.5 474.5L795.3 475.5L794.9 476.5L794.3 477.4L793.7 478.2L792.9 478.8L792 479.4L791 479.8L790 480L789 480.1"/>
<path class="t5" d="M802.2 480.1L801.2 480L800.2 479.8L799.2 479.4L798.3 478.8L797.5 478.2L796.9 477.4L796.3 476.5L795.9 475.5L795.7 474.5L795.6 473.5"/>
<path class="w" d="M803.5 471.8L803.5 547"/>
<path class="wi" d="M803.5 471.8L803.5 547"/>
<path class="m" d="M802.4 471.9L826.6 471.9"/>
<path class="w" d="M804 471.9L816 471.9"/>
<path class="wi" d="M804 471.9L816 471.9"/>
<path class="t5" d="M804.5 474.2L824.6 474.2"/>
<path class="w" d="M804.5 482.7L824.6 482.7"/>
<path class="wi" d="M804.5 482.7L824.6 482.7"/>
<path class="m" d="M804.5 508.6L824.6 508.6"/>
<path class="m" d="M804.5 510.4L824.6 510.4"/>
<path class="m" d="M802.4 546.6L826.8 546.6"/>
<path class="t5" d="M804.5 544.9L824.6 544.9"/>
<path class="t5" d="M802 489.5L798.8 492.6L802 495.7"/>
<path class="t5" d="M802 522L798.8 525.2L802 528.4"/>
<path class="k2" d="M847 546.8L847 556"/>
<path class="k2" d="M847 572.5L847 583.5"/>
<path class="t5" d="M846.7 564L844.6 563.7L842.7 562.9L841 561.7L839.8 560L839 558.1L838.7 556"/>
<path class="t5" d="M838.7 572.5L839 570.4L839.8 568.5L841 566.8L842.7 565.6L844.6 564.8L846.7 564.5"/>
<path class="k2" d="M846 582.2L873.3 582.2"/>
<path class="g" d="M784.6 548.4L784.6 582.4"/>
<path class="g" d="M786.2 548.4L786.2 580.8"/>
<path class="g" d="M784.6 582.4L825 582.4"/>
<path class="g" d="M786.2 580.8L825 580.8"/>
<clipPath id="cl"><path d="M826.6 583.5H845.6V626.6H878V648.4H826.6Z"/></clipPath>
<path class="hh" clip-path="url(#cl)" d="M720.0 660.0L805.0 575.0M723.3 660.0L808.3 575.0M726.6 660.0L811.6 575.0M729.9 660.0L814.9 575.0M733.2 660.0L818.2 575.0M736.5 660.0L821.5 575.0M739.8 660.0L824.8 575.0M743.1 660.0L828.1 575.0M746.4 660.0L831.4 575.0M749.7 660.0L834.7 575.0M753.0 660.0L838.0 575.0M756.3 660.0L841.3 575.0M759.6 660.0L844.6 575.0M762.9 660.0L847.9 575.0M766.2 660.0L851.2 575.0M769.5 660.0L854.5 575.0M772.8 660.0L857.8 575.0M776.1 660.0L861.1 575.0M779.4 660.0L864.4 575.0M782.7 660.0L867.7 575.0M786.0 660.0L871.0 575.0M789.3 660.0L874.3 575.0M792.6 660.0L877.6 575.0M795.9 660.0L880.9 575.0M799.2 660.0L884.2 575.0M802.5 660.0L887.5 575.0M805.8 660.0L890.8 575.0M809.1 660.0L894.1 575.0M812.4 660.0L897.4 575.0M815.7 660.0L900.7 575.0M819.0 660.0L904.0 575.0M822.3 660.0L907.3 575.0M825.6 660.0L910.6 575.0M828.9 660.0L913.9 575.0M832.2 660.0L917.2 575.0M835.5 660.0L920.5 575.0M838.8 660.0L923.8 575.0M842.1 660.0L927.1 575.0M845.4 660.0L930.4 575.0M848.7 660.0L933.7 575.0M852.0 660.0L937.0 575.0M855.3 660.0L940.3 575.0M858.6 660.0L943.6 575.0M861.9 660.0L946.9 575.0M865.2 660.0L950.2 575.0M868.5 660.0L953.5 575.0M871.8 660.0L956.8 575.0M875.1 660.0L960.1 575.0M878.4 660.0L963.4 575.0M881.7 660.0L966.7 575.0M885.0 660.0L970.0 575.0M888.3 660.0L973.3 575.0M891.6 660.0L976.6 575.0M894.9 660.0L979.9 575.0M898.2 660.0L983.2 575.0"/>
<path class="m" d="M824.6 580.6L824.6 650L880.6 650"/>
<path class="m" d="M826.6 582.6L826.6 648.2L880.6 648.2"/>
<path class="m" d="M824 581.6L847 581.6"/>
<path class="lg" style="stroke:#999;stroke-width:.6" d="M845.8 583.5L845.8 626.6"/>
<path class="g" d="M845.8 626.6L878 626.6"/>
<path class="g" d="M878.6 626.6L878.6 650"/>
<path class="g" d="M880 626.6L880 650"/>
<path class="g" d="M878 627L914 627"/>
<path class="g" d="M878 625.6L914 625.6"/>
<rect class="bf" x="845.9" y="618.8" width="7.4" height="7.2"/>
<rect class="bf" x="904.6" y="618.8" width="7.4" height="7.2"/>
<path class="m" d="M913.9 627L913.9 582L958.8 582"/>
<path class="t" d="M915.9 625L915.9 584.4L958.8 584.4"/>
<path class="m" d="M913 626.4L972.6 626.4"/>
<path class="t" d="M915.9 624.6L970.4 624.6"/>
<path class="k2" d="M929 582.4L958 582.4"/>
<path class="k2" d="M956.6 573L956.6 583.5"/>
<path class="t5" d="M955.8 548L955.8 573"/>
<path class="t5" d="M957.6 548L957.6 573"/>
<rect class="bf" x="957.6" y="549" width="12.3" height="5"/>
<rect class="wfill" x="959" y="550.1" width="9.6" height="2.8"/>
<path class="m" style="stroke-width:.9" d="M959.4 552.4L961.5 550.6L963.5 552.4L965.5 550.6L968 552.4"/>
<path class="t5" d="M963.6 556L963.5 556.8L963.4 557.7L963.1 558.4L962.7 559.2L962.2 559.9L961.6 560.5L961 561L960.2 561.4L959.5 561.7L958.6 561.9"/>
<path class="t5" d="M958.6 566.1L959.5 566.3L960.2 566.6L961 567L961.6 567.5L962.2 568.1L962.7 568.8L963.1 569.6L963.4 570.3L963.5 571.2L963.6 572"/>
<text class="n" x="884.5" y="210.2" textLength="7.9" lengthAdjust="spacingAndGlyphs">5</text>
<text class="n" x="935.4" y="217" textLength="7.9" lengthAdjust="spacingAndGlyphs">8</text>
<text class="n" x="964" y="218.5" textLength="7.9" lengthAdjust="spacingAndGlyphs">6</text>
<text class="n" x="887.6" y="245.2" textLength="7.9" lengthAdjust="spacingAndGlyphs">7</text>
<text class="n" x="935.4" y="253.1" textLength="7.9" lengthAdjust="spacingAndGlyphs">8</text>
<text class="n" x="935.4" y="285.6" textLength="7.9" lengthAdjust="spacingAndGlyphs">8</text>
<text class="n" x="887.6" y="294.2" textLength="7.9" lengthAdjust="spacingAndGlyphs">7</text>
<text class="n" x="935.4" y="322.5" textLength="7.9" lengthAdjust="spacingAndGlyphs">8</text>
<text class="n" x="964" y="321.2" textLength="7.9" lengthAdjust="spacingAndGlyphs">6</text>
<text class="n" x="884.5" y="329.2" textLength="7.9" lengthAdjust="spacingAndGlyphs">5</text>
<text class="n" x="835.5" y="339.5" textLength="7.9" lengthAdjust="spacingAndGlyphs">9</text>
<text class="n" x="884.5" y="352.4" textLength="7.9" lengthAdjust="spacingAndGlyphs">5</text>
<text class="n" x="935.4" y="358.5" textLength="7.9" lengthAdjust="spacingAndGlyphs">8</text>
<text class="n" x="964" y="360" textLength="7.9" lengthAdjust="spacingAndGlyphs">6</text>
<text class="n" x="887.8" y="387" textLength="7.9" lengthAdjust="spacingAndGlyphs">7</text>
<text class="n" x="935.4" y="394" textLength="7.9" lengthAdjust="spacingAndGlyphs">8</text>
<text class="n" x="935.4" y="427.6" textLength="7.9" lengthAdjust="spacingAndGlyphs">8</text>
<text class="n" x="887.8" y="436" textLength="7.9" lengthAdjust="spacingAndGlyphs">7</text>
<text class="n" x="935.4" y="464.6" textLength="7.9" lengthAdjust="spacingAndGlyphs">8</text>
<text class="n" x="964" y="464" textLength="7.9" lengthAdjust="spacingAndGlyphs">6</text>
<text class="n" x="884.5" y="470.5" textLength="7.9" lengthAdjust="spacingAndGlyphs">5</text>
<text class="n" x="884.5" y="494" textLength="7.9" lengthAdjust="spacingAndGlyphs">5</text>
<text class="n" x="935.4" y="499.6" textLength="7.9" lengthAdjust="spacingAndGlyphs">8</text>
<text class="n" x="964" y="501" textLength="7.9" lengthAdjust="spacingAndGlyphs">6</text>
<text class="n" x="887.8" y="528.5" textLength="7.9" lengthAdjust="spacingAndGlyphs">7</text>
<text class="n" x="935.4" y="536" textLength="7.9" lengthAdjust="spacingAndGlyphs">8</text>
<text class="n" x="813.6" y="500.7" textLength="15.8" lengthAdjust="spacingAndGlyphs">11</text>
<text class="n" x="814" y="535.5" textLength="15.8" lengthAdjust="spacingAndGlyphs">10</text>
<text class="n" x="890" y="587.6" textLength="7.9" lengthAdjust="spacingAndGlyphs">1</text>
<text class="n" x="944" y="610.5" textLength="7.9" lengthAdjust="spacingAndGlyphs">2</text>
<path class="gf" style="fill:#f1f1f1" d="M188.4 1154.6L175.5 1141.7L188.2 1129L201.1 1141.9Z"/>
<path class="gf" style="fill:#d6d6d6" d="M189.6 1154.8L205.6 1138.9L202.6 1135.9L186.6 1151.8Z"/>
<path class="m" style="stroke-width:1.3" d="M188.4 1154.6L175.5 1141.7L192.5 1124.8L203.4 1135.7"/>
<path class="m" style="stroke-width:1.5" d="M188.2 1129L198.1 1138.9L202.4 1134.7"/>
<path class="m" style="stroke-width:1.3" d="M188.2 1129L202.4 1134.7"/>
<path class="m" style="stroke-width:1.3" d="M192.5 1124.8L198.1 1138.9"/>
<path class="t5" d="M193.2 1134L197.5 1129.8"/>
<path class="gf" style="fill:#f1f1f1" d="M215.9 1127.2L203 1114.2L216 1101.2L228.9 1114.2Z"/>
<path class="gf" style="fill:#d6d6d6" d="M217.1 1127.4L233.4 1111.2L230.4 1108.2L214.1 1124.4Z"/>
<path class="m" style="stroke-width:1.3" d="M215.9 1127.2L203 1114.2L220.2 1097L231.1 1107.9"/>
<path class="m" style="stroke-width:1.5" d="M216 1101.2L225.9 1111.2L230.1 1106.9"/>
<path class="m" style="stroke-width:1.3" d="M216 1101.2L230.1 1106.9"/>
<path class="m" style="stroke-width:1.3" d="M220.2 1097L225.9 1111.2"/>
<path class="t5" d="M221 1106.2L225.2 1102"/>
<path class="gf" style="fill:#f1f1f1" d="M243.6 1099.4L230.7 1086.5L245.4 1071.8L258.3 1084.7Z"/>
<path class="gf" style="fill:#d6d6d6" d="M244.9 1099.7L262.8 1081.7L259.8 1078.7L241.9 1096.7Z"/>
<path class="m" style="stroke-width:1.3" d="M243.6 1099.4L230.7 1086.5L249.7 1067.5L260.6 1078.4"/>
<path class="m" style="stroke-width:1.5" d="M245.4 1071.8L255.3 1081.7L259.6 1077.4"/>
<path class="m" style="stroke-width:1.3" d="M245.4 1071.8L259.6 1077.4"/>
<path class="m" style="stroke-width:1.3" d="M249.7 1067.5L255.3 1081.7"/>
<path class="t5" d="M250.4 1076.8L254.7 1072.5"/>
<path class="gf" style="fill:#f1f1f1" d="M273.1 1069.9L260.2 1057L273.2 1044L286.1 1056.9Z"/>
<path class="gf" style="fill:#d6d6d6" d="M274.3 1070.2L290.6 1053.9L287.6 1050.9L271.3 1067.2Z"/>
<path class="m" style="stroke-width:1.3" d="M273.1 1069.9L260.2 1057L277.4 1039.8L288.3 1050.7"/>
<path class="m" style="stroke-width:1.5" d="M273.2 1044L283.1 1053.9L287.3 1049.7"/>
<path class="m" style="stroke-width:1.3" d="M273.2 1044L287.3 1049.7"/>
<path class="m" style="stroke-width:1.3" d="M277.4 1039.8L283.1 1053.9"/>
<path class="t5" d="M278.2 1049L282.4 1044.8"/>
<path class="gf" style="fill:#f1f1f1" d="M300.8 1042.2L287.9 1029.3L302.6 1014.6L315.5 1027.5Z"/>
<path class="gf" style="fill:#d6d6d6" d="M302.1 1042.4L320 1024.5L317 1021.5L299.1 1039.4Z"/>
<path class="m" style="stroke-width:1.3" d="M300.8 1042.2L287.9 1029.3L306.9 1010.3L317.8 1021.2"/>
<path class="m" style="stroke-width:1.5" d="M302.6 1014.6L312.5 1024.5L316.8 1020.2"/>
<path class="m" style="stroke-width:1.3" d="M302.6 1014.6L316.8 1020.2"/>
<path class="m" style="stroke-width:1.3" d="M306.9 1010.3L312.5 1024.5"/>
<path class="t5" d="M307.6 1019.6L311.9 1015.3"/>
<path class="gf" style="fill:#f1f1f1" d="M330.3 1012.7L317.4 999.8L330.4 986.8L343.3 999.7Z"/>
<path class="gf" style="fill:#d6d6d6" d="M331.5 1013L347.8 996.7L344.8 993.7L328.5 1010Z"/>
<path class="m" style="stroke-width:1.3" d="M330.3 1012.7L317.4 999.8L334.6 982.6L345.5 993.5"/>
<path class="m" style="stroke-width:1.5" d="M330.4 986.8L340.3 996.7L344.5 992.5"/>
<path class="m" style="stroke-width:1.3" d="M330.4 986.8L344.5 992.5"/>
<path class="m" style="stroke-width:1.3" d="M334.6 982.6L340.3 996.7"/>
<path class="t5" d="M335.4 991.8L339.6 987.6"/>
<path class="gf" style="fill:#f1f1f1" d="M358 985L345.1 972.1L359.8 957.4L372.7 970.3Z"/>
<path class="gf" style="fill:#d6d6d6" d="M359.3 985.2L377.2 967.3L374.2 964.3L356.3 982.2Z"/>
<path class="m" style="stroke-width:1.3" d="M358 985L345.1 972.1L364.1 953.1L375 964"/>
<path class="m" style="stroke-width:1.5" d="M359.8 957.4L369.7 967.3L374 963"/>
<path class="m" style="stroke-width:1.3" d="M359.8 957.4L374 963"/>
<path class="m" style="stroke-width:1.3" d="M364.1 953.1L369.7 967.3"/>
<path class="t5" d="M364.8 962.4L369.1 958.1"/>
<path class="gf" style="fill:#f1f1f1" d="M387.5 955.5L374.6 942.6L387.6 929.6L400.5 942.5Z"/>
<path class="gf" style="fill:#d6d6d6" d="M388.7 955.8L405 939.5L402 936.5L385.7 952.8Z"/>
<path class="m" style="stroke-width:1.3" d="M387.5 955.5L374.6 942.6L391.8 925.4L402.7 936.3"/>
<path class="m" style="stroke-width:1.5" d="M387.6 929.6L397.5 939.5L401.7 935.3"/>
<path class="m" style="stroke-width:1.3" d="M387.6 929.6L401.7 935.3"/>
<path class="m" style="stroke-width:1.3" d="M391.8 925.4L397.5 939.5"/>
<path class="t5" d="M392.6 934.6L396.8 930.4"/>
<path class="gf" style="fill:#f1f1f1" d="M415.2 927.8L402.3 914.9L417.1 900.1L430 913Z"/>
<path class="gf" style="fill:#d6d6d6" d="M416.5 928L434.5 910L431.5 907L413.5 925Z"/>
<path class="m" style="stroke-width:1.3" d="M415.2 927.8L402.3 914.9L421.3 895.9L432.2 906.8"/>
<path class="m" style="stroke-width:1.5" d="M417.1 900.1L427 910L431.2 905.8"/>
<path class="m" style="stroke-width:1.3" d="M417.1 900.1L431.2 905.8"/>
<path class="m" style="stroke-width:1.3" d="M421.3 895.9L427 910"/>
<path class="t5" d="M422.1 905.1L426.3 900.9"/>
<path class="gf" style="fill:#f1f1f1" d="M444.7 898.3L431.8 885.4L444.8 872.4L457.7 885.3Z"/>
<path class="gf" style="fill:#d6d6d6" d="M446 898.5L462.2 882.3L459.2 879.3L443 895.5Z"/>
<path class="m" style="stroke-width:1.3" d="M444.7 898.3L431.8 885.4L449.1 868.1L460 879"/>
<path class="m" style="stroke-width:1.5" d="M444.8 872.4L454.7 882.3L459 878"/>
<path class="m" style="stroke-width:1.3" d="M444.8 872.4L459 878"/>
<path class="m" style="stroke-width:1.3" d="M449.1 868.1L454.7 882.3"/>
<path class="t5" d="M449.8 877.4L454.1 873.1"/>
<path class="gf" style="fill:#f1f1f1" d="M472.5 870.5L459.6 857.6L474.3 842.9L487.2 855.8Z"/>
<path class="gf" style="fill:#d6d6d6" d="M473.7 870.8L491.7 852.8L488.7 849.8L470.7 867.8Z"/>
<path class="m" style="stroke-width:1.3" d="M472.5 870.5L459.6 857.6L478.5 838.7L489.4 849.6"/>
<path class="m" style="stroke-width:1.5" d="M474.3 842.9L484.2 852.8L488.4 848.6"/>
<path class="m" style="stroke-width:1.3" d="M474.3 842.9L488.4 848.6"/>
<path class="m" style="stroke-width:1.3" d="M478.5 838.7L484.2 852.8"/>
<path class="t5" d="M479.3 847.9L483.5 843.7"/>
<path class="gf" style="fill:#f1f1f1" d="M501.9 841.1L489 828.2L502 815.2L514.9 828.1Z"/>
<path class="gf" style="fill:#d6d6d6" d="M503.2 841.3L519.4 825.1L516.4 822.1L500.2 838.3Z"/>
<path class="m" style="stroke-width:1.3" d="M501.9 841.1L489 828.2L506.3 810.9L517.2 821.8"/>
<path class="m" style="stroke-width:1.5" d="M502 815.2L511.9 825.1L516.2 820.8"/>
<path class="m" style="stroke-width:1.3" d="M502 815.2L516.2 820.8"/>
<path class="m" style="stroke-width:1.3" d="M506.3 810.9L511.9 825.1"/>
<path class="t5" d="M507 820.2L511.3 815.9"/>
<path class="gf" style="fill:#f1f1f1" d="M529.7 813.3L516.8 800.4L531.5 785.7L544.4 798.6Z"/>
<path class="gf" style="fill:#d6d6d6" d="M530.9 813.6L548.9 795.6L545.9 792.6L527.9 810.6Z"/>
<path class="m" style="stroke-width:1.3" d="M529.7 813.3L516.8 800.4L535.7 781.5L546.6 792.4"/>
<path class="m" style="stroke-width:1.5" d="M531.5 785.7L541.4 795.6L545.6 791.4"/>
<path class="m" style="stroke-width:1.3" d="M531.5 785.7L545.6 791.4"/>
<path class="m" style="stroke-width:1.3" d="M535.7 781.5L541.4 795.6"/>
<path class="t5" d="M536.5 790.7L540.7 786.5"/>
<path class="gf" style="fill:#f1f1f1" d="M559.1 783.9L546.2 771L559.2 758L572.1 770.9Z"/>
<path class="gf" style="fill:#d6d6d6" d="M560.4 784.1L576.6 767.9L573.6 764.9L557.4 781.1Z"/>
<path class="m" style="stroke-width:1.3" d="M559.1 783.9L546.2 771L563.5 753.7L574.4 764.6"/>
<path class="m" style="stroke-width:1.5" d="M559.2 758L569.1 767.9L573.4 763.6"/>
<path class="m" style="stroke-width:1.3" d="M559.2 758L573.4 763.6"/>
<path class="m" style="stroke-width:1.3" d="M563.5 753.7L569.1 767.9"/>
<path class="t5" d="M564.2 763L568.5 758.7"/>
<path class="bf" d="M172.8 1154.5L179 1148.2L183.5 1152.7L177.2 1159Z"/>
<path class="lg" style="stroke:#e6e6e6;stroke-width:.55" d="M174.6 1153.4L177.3 1156.2"/>
<path class="lg" style="stroke:#e6e6e6;stroke-width:.55" d="M176.1 1151.9L178.8 1154.7"/>
<path class="lg" style="stroke:#e6e6e6;stroke-width:.55" d="M177.6 1150.4L180.3 1153.2"/>
<path class="wf" style="stroke-width:1.25;stroke:#000" d="M203.8 1134.6L211.9 1126.5L214.5 1129.1L206.4 1137.2Z"/>
<path class="bf" d="M200.5 1126.8L206.7 1120.5L211.2 1125L205 1131.2Z"/>
<path class="lg" style="stroke:#e6e6e6;stroke-width:.55" d="M202.3 1125.7L205.1 1128.5"/>
<path class="lg" style="stroke:#e6e6e6;stroke-width:.55" d="M203.8 1124.2L206.6 1127"/>
<path class="lg" style="stroke:#e6e6e6;stroke-width:.55" d="M205.3 1122.7L208.1 1125.5"/>
<path class="wf" style="stroke-width:1.25;stroke:#000" d="M231.6 1106.8L239.7 1098.8L242.2 1101.3L234.1 1109.4Z"/>
<path class="bf" d="M228.2 1099L234.5 1092.8L239 1097.2L232.7 1103.5Z"/>
<path class="lg" style="stroke:#e6e6e6;stroke-width:.55" d="M230.1 1098L232.8 1100.7"/>
<path class="lg" style="stroke:#e6e6e6;stroke-width:.55" d="M231.6 1096.5L234.3 1099.2"/>
<path class="lg" style="stroke:#e6e6e6;stroke-width:.55" d="M233.1 1095L235.8 1097.7"/>
<path class="wf" style="stroke-width:1.25;stroke:#000" d="M261 1077.4L269.1 1069.3L271.7 1071.9L263.6 1080Z"/>
<path class="bf" d="M257.7 1069.5L263.9 1063.3L268.4 1067.8L262.2 1074Z"/>
<path class="lg" style="stroke:#e6e6e6;stroke-width:.55" d="M259.5 1068.5L262.3 1071.2"/>
<path class="lg" style="stroke:#e6e6e6;stroke-width:.55" d="M261 1067L263.8 1069.7"/>
<path class="lg" style="stroke:#e6e6e6;stroke-width:.55" d="M262.5 1065.5L265.3 1068.2"/>
<path class="wf" style="stroke-width:1.25;stroke:#000" d="M288.8 1049.6L296.9 1041.5L299.5 1044.1L291.4 1052.2Z"/>
<path class="bf" d="M285.4 1041.8L291.7 1035.5L296.2 1040L289.9 1046.3Z"/>
<path class="lg" style="stroke:#e6e6e6;stroke-width:.55" d="M287.3 1040.7L290 1043.5"/>
<path class="lg" style="stroke:#e6e6e6;stroke-width:.55" d="M288.8 1039.2L291.5 1042"/>
<path class="lg" style="stroke:#e6e6e6;stroke-width:.55" d="M290.3 1037.7L293 1040.5"/>
<path class="wf" style="stroke-width:1.25;stroke:#000" d="M318.2 1020.2L326.3 1012.1L328.9 1014.7L320.8 1022.8Z"/>
<path class="bf" d="M314.9 1012.3L321.1 1006.1L325.6 1010.6L319.4 1016.8Z"/>
<path class="lg" style="stroke:#e6e6e6;stroke-width:.55" d="M316.7 1011.3L319.5 1014"/>
<path class="lg" style="stroke:#e6e6e6;stroke-width:.55" d="M318.2 1009.8L321 1012.5"/>
<path class="lg" style="stroke:#e6e6e6;stroke-width:.55" d="M319.7 1008.3L322.5 1011"/>
<path class="wf" style="stroke-width:1.25;stroke:#000" d="M346 992.4L354.1 984.3L356.7 986.9L348.6 995Z"/>
<path class="bf" d="M342.6 984.6L348.9 978.3L353.4 982.8L347.1 989.1Z"/>
<path class="lg" style="stroke:#e6e6e6;stroke-width:.55" d="M344.5 983.5L347.2 986.3"/>
<path class="lg" style="stroke:#e6e6e6;stroke-width:.55" d="M346 982L348.7 984.8"/>
<path class="lg" style="stroke:#e6e6e6;stroke-width:.55" d="M347.5 980.5L350.2 983.3"/>
<path class="wf" style="stroke-width:1.25;stroke:#000" d="M375.4 963L383.5 954.9L386.1 957.5L378 965.6Z"/>
<path class="bf" d="M372.1 955.1L378.3 948.9L382.8 953.4L376.6 959.6Z"/>
<path class="lg" style="stroke:#e6e6e6;stroke-width:.55" d="M373.9 954.1L376.7 956.8"/>
<path class="lg" style="stroke:#e6e6e6;stroke-width:.55" d="M375.4 952.6L378.2 955.3"/>
<path class="lg" style="stroke:#e6e6e6;stroke-width:.55" d="M376.9 951.1L379.7 953.8"/>
<path class="wf" style="stroke-width:1.25;stroke:#000" d="M403.2 935.2L411.3 927.1L413.9 929.7L405.8 937.8Z"/>
<path class="bf" d="M399.8 927.4L406.1 921.1L410.6 925.6L404.3 931.9Z"/>
<path class="lg" style="stroke:#e6e6e6;stroke-width:.55" d="M401.7 926.3L404.4 929.1"/>
<path class="lg" style="stroke:#e6e6e6;stroke-width:.55" d="M403.2 924.8L405.9 927.6"/>
<path class="lg" style="stroke:#e6e6e6;stroke-width:.55" d="M404.7 923.3L407.4 926.1"/>
<path class="wf" style="stroke-width:1.25;stroke:#000" d="M432.7 905.7L440.8 897.6L443.4 900.2L435.3 908.3Z"/>
<path class="bf" d="M429.3 897.9L435.6 891.6L440.1 896.1L433.8 902.4Z"/>
<path class="lg" style="stroke:#e6e6e6;stroke-width:.55" d="M431.2 896.8L433.9 899.6"/>
<path class="lg" style="stroke:#e6e6e6;stroke-width:.55" d="M432.7 895.3L435.4 898.1"/>
<path class="lg" style="stroke:#e6e6e6;stroke-width:.55" d="M434.2 893.8L436.9 896.6"/>
<path class="wf" style="stroke-width:1.25;stroke:#000" d="M460.4 878L468.5 869.9L471.1 872.5L463 880.6Z"/>
<path class="bf" d="M457.1 870.1L463.3 863.9L467.8 868.4L461.6 874.6Z"/>
<path class="lg" style="stroke:#e6e6e6;stroke-width:.55" d="M458.9 869.1L461.7 871.8"/>
<path class="lg" style="stroke:#e6e6e6;stroke-width:.55" d="M460.4 867.6L463.2 870.3"/>
<path class="lg" style="stroke:#e6e6e6;stroke-width:.55" d="M461.9 866.1L464.7 868.8"/>
<path class="wf" style="stroke-width:1.25;stroke:#000" d="M489.9 848.5L498 840.4L500.6 843L492.5 851.1Z"/>
<path class="bf" d="M486.5 840.7L492.8 834.4L497.3 838.9L491 845.2Z"/>
<path class="lg" style="stroke:#e6e6e6;stroke-width:.55" d="M488.4 839.6L491.1 842.4"/>
<path class="lg" style="stroke:#e6e6e6;stroke-width:.55" d="M489.9 838.1L492.6 840.9"/>
<path class="lg" style="stroke:#e6e6e6;stroke-width:.55" d="M491.4 836.6L494.1 839.4"/>
<path class="wf" style="stroke-width:1.25;stroke:#000" d="M517.6 820.8L525.7 812.7L528.3 815.3L520.2 823.4Z"/>
<path class="bf" d="M514.3 812.9L520.5 806.7L525 811.2L518.8 817.4Z"/>
<path class="lg" style="stroke:#e6e6e6;stroke-width:.55" d="M516.1 811.9L518.9 814.6"/>
<path class="lg" style="stroke:#e6e6e6;stroke-width:.55" d="M517.6 810.4L520.4 813.1"/>
<path class="lg" style="stroke:#e6e6e6;stroke-width:.55" d="M519.1 808.9L521.9 811.6"/>
<path class="wf" style="stroke-width:1.25;stroke:#000" d="M547.1 791.3L555.2 783.2L557.8 785.8L549.7 793.9Z"/>
<path class="bf" d="M543.7 783.5L550 777.2L554.5 781.7L548.2 788Z"/>
<path class="lg" style="stroke:#e6e6e6;stroke-width:.55" d="M545.6 782.4L548.3 785.2"/>
<path class="lg" style="stroke:#e6e6e6;stroke-width:.55" d="M547.1 780.9L549.8 783.7"/>
<path class="lg" style="stroke:#e6e6e6;stroke-width:.55" d="M548.6 779.4L551.3 782.2"/>
<path class="wf" style="stroke-width:1.25;stroke:#000" d="M574.8 763.6L582.9 755.5L585.5 758.1L577.4 766.2Z"/>
<path class="bf" d="M571.5 755.7L577.7 749.5L582.2 754L576 760.2Z"/>
<path class="lg" style="stroke:#e6e6e6;stroke-width:.55" d="M573.3 754.7L576.1 757.4"/>
<path class="lg" style="stroke:#e6e6e6;stroke-width:.55" d="M574.8 753.2L577.6 755.9"/>
<path class="lg" style="stroke:#e6e6e6;stroke-width:.55" d="M576.3 751.7L579.1 754.4"/>
<path class="bf" d="M177.9 1156L181.9 1152.2L260.1 1230.3L256.2 1234.2Z"/>
<path class="wfill" d="M216.4 1191.7L217.4 1190.7L234.1 1207.4L233.1 1208.4Z"/>
<path class="bf" d="M236.2 1206.8L238.5 1204.5L242 1208L239.8 1210.2Z"/>
<path class="k" style="stroke-width:3.4" d="M239.9 1100.2L315.5 1175.8"/>
<path class="bf" d="M236.8 1101.2L241 1097L245.5 1101.5L241.2 1105.8Z"/>
<path class="wfill" style="stroke:#dcdcdc;stroke-width:2.4" d="M273.1 1133.4L289.9 1150.2"/>
<path class="t5" style="stroke:#111;stroke-width:.8" d="M272.2 1134.3L288.9 1151.1"/>
<path class="t5" style="stroke:#111;stroke-width:.8" d="M274.1 1132.5L290.8 1149.2"/>
<path class="bf" d="M308.6 1178.2L317.9 1168.8L320.2 1171L310.8 1180.5Z"/>
<path class="k" style="stroke-width:3.4" d="M297.1 1042.9L372.7 1118.5"/>
<path class="bf" d="M294 1044L298.2 1039.8L302.7 1044.3L298.5 1048.5Z"/>
<path class="wfill" style="stroke:#dcdcdc;stroke-width:2.4" d="M330.3 1076.2L347.1 1092.9"/>
<path class="t5" style="stroke:#111;stroke-width:.8" d="M329.4 1077.1L346.1 1093.9"/>
<path class="t5" style="stroke:#111;stroke-width:.8" d="M331.3 1075.2L348 1092"/>
<path class="bf" d="M365.8 1121L375.2 1111.6L377.4 1113.8L368 1123.2Z"/>
<path class="k" style="stroke-width:3.4" d="M354.3 985.7L429.9 1061.3"/>
<path class="bf" d="M351.2 986.8L355.4 982.6L359.9 987.1L355.7 991.3Z"/>
<path class="wfill" style="stroke:#dcdcdc;stroke-width:2.4" d="M387.5 1019L404.3 1035.7"/>
<path class="t5" style="stroke:#111;stroke-width:.8" d="M386.6 1019.9L403.3 1036.7"/>
<path class="t5" style="stroke:#111;stroke-width:.8" d="M388.5 1018L405.2 1034.8"/>
<path class="bf" d="M423 1063.8L432.4 1054.4L434.6 1056.6L425.2 1066Z"/>
<path class="k" style="stroke-width:3.4" d="M411.5 928.5L487.1 1004.1"/>
<path class="bf" d="M408.4 929.6L412.6 925.4L417.1 929.9L412.9 934.1Z"/>
<path class="wfill" style="stroke:#dcdcdc;stroke-width:2.4" d="M444.7 961.8L461.5 978.5"/>
<path class="t5" style="stroke:#111;stroke-width:.8" d="M443.8 962.7L460.5 979.5"/>
<path class="t5" style="stroke:#111;stroke-width:.8" d="M445.7 960.8L462.4 977.6"/>
<path class="bf" d="M480.2 1006.6L489.6 997.2L491.8 999.4L482.4 1008.8Z"/>
<path class="k" style="stroke-width:3.4" d="M468.7 871.3L544.3 946.9"/>
<path class="bf" d="M465.6 872.4L469.8 868.2L474.3 872.7L470.1 876.9Z"/>
<path class="wfill" style="stroke:#dcdcdc;stroke-width:2.4" d="M502 904.5L518.7 921.3"/>
<path class="t5" style="stroke:#111;stroke-width:.8" d="M501 905.5L517.8 922.2"/>
<path class="t5" style="stroke:#111;stroke-width:.8" d="M502.9 903.6L519.7 920.3"/>
<path class="bf" d="M537.4 949.4L546.8 940L549 942.2L539.6 951.6Z"/>
<path class="k" style="stroke-width:3.4" d="M525.9 814.1L601.5 889.7"/>
<path class="bf" d="M522.8 815.2L527 811L531.5 815.5L527.3 819.7Z"/>
<path class="wfill" style="stroke:#dcdcdc;stroke-width:2.4" d="M559.2 847.3L575.9 864.1"/>
<path class="t5" style="stroke:#111;stroke-width:.8" d="M558.2 848.3L575 865"/>
<path class="t5" style="stroke:#111;stroke-width:.8" d="M560.1 846.4L576.9 863.1"/>
<path class="bf" d="M594.6 892.2L604 882.8L606.2 885L596.8 894.4Z"/>
<path class="t5" style="stroke:#111;stroke-width:.9" d="M212.9 1130.1L282.4 1199.6"/>
<path class="t5" style="stroke:#111;stroke-width:.9" d="M214.3 1128.7L283.8 1198.2"/>
<path class="t5" style="stroke:#111;stroke-width:.9" d="M270.1 1072.9L339.6 1142.4"/>
<path class="t5" style="stroke:#111;stroke-width:.9" d="M271.5 1071.5L341 1141"/>
<path class="t5" style="stroke:#111;stroke-width:.9" d="M327.4 1015.6L396.9 1085.1"/>
<path class="t5" style="stroke:#111;stroke-width:.9" d="M328.7 1014.3L398.2 1083.8"/>
<path class="t5" style="stroke:#111;stroke-width:.9" d="M384.6 958.4L454.1 1027.9"/>
<path class="t5" style="stroke:#111;stroke-width:.9" d="M385.9 957.1L455.4 1026.6"/>
<path class="t5" style="stroke:#111;stroke-width:.9" d="M441.8 901.2L511.3 970.7"/>
<path class="t5" style="stroke:#111;stroke-width:.9" d="M443.1 899.9L512.6 969.4"/>
<path class="t5" style="stroke:#111;stroke-width:.9" d="M499 844L568.5 913.5"/>
<path class="t5" style="stroke:#111;stroke-width:.9" d="M500.4 842.6L569.9 912.1"/>
<path class="t5" style="stroke:#111;stroke-width:.9" d="M556.2 786.8L625.7 856.3"/>
<path class="t5" style="stroke:#111;stroke-width:.9" d="M557.6 785.4L627.1 854.9"/>
<path class="m" style="stroke:#1a1a1a;stroke-width:1.45" d="M254.1 1201.2L248.1 1195.2L279.6 1163.7L285.6 1169.7"/>
<path class="m" style="stroke:#1a1a1a;stroke-width:1.45" d="M260.1 1207.2L272.1 1219.2L303.6 1187.7L291.6 1175.7"/>
<path class="t5" style="stroke:#666;stroke-width:.5" d="M254.1 1201.2L259.6 1195.7"/>
<path class="t5" style="stroke:#666;stroke-width:.5" d="M259.6 1195.7L261.6 1198.7L262.1 1202.2L261.3 1205.4L260.1 1207.2"/>
<path class="t5" style="stroke:#666;stroke-width:.5" d="M285.6 1169.7L280.1 1175.2"/>
<path class="t5" style="stroke:#666;stroke-width:.5" d="M280.1 1175.2L283.1 1177.2L286.6 1177.7L289.8 1176.9L291.6 1175.7"/>
<path class="m" style="stroke-width:1.2" d="M265.6 1212.7L297.1 1181.2"/>
<path class="t" d="M266.9 1213.9L291.4 1189.4"/>
<path class="m" style="stroke-width:1.3" d="M268.7 1183L272.7 1179L268.7 1175"/>
<path class="m" style="stroke-width:1.3" d="M267.2 1184.5L263.2 1188.5L267.2 1192.5L271.2 1188.5"/>
<path class="m" style="stroke-width:1.3" d="M290.1 1188.2L296.6 1194.7"/>
<path class="t" d="M294.1 1184.2L300.6 1190.7"/>
<path class="m" d="M292.6 1190.7L296.6 1186.7"/>
<path class="t" d="M269.9 1210.9L275.1 1216.2"/>
<path class="m" style="stroke-width:1.3" d="M273.4 1207.4L278.6 1212.7"/>
<path class="t5" d="M275.8 1209.9L288.1 1197.7"/>
<path class="t5" style="stroke:#666;stroke-width:.5" d="M284.8 1206.4L287.8 1209.4L288.3 1204.9L291.8 1205.4L291.8 1201.4L294.8 1202.4L291.8 1199.4"/>
<path class="m" style="stroke:#1a1a1a;stroke-width:1.45" d="M311.3 1143.9L305.3 1137.9L336.8 1106.4L342.8 1112.4"/>
<path class="m" style="stroke:#1a1a1a;stroke-width:1.45" d="M317.3 1149.9L329.3 1161.9L360.8 1130.4L348.8 1118.4"/>
<path class="t5" style="stroke:#666;stroke-width:.5" d="M311.3 1143.9L316.8 1138.4"/>
<path class="t5" style="stroke:#666;stroke-width:.5" d="M316.8 1138.4L318.8 1141.4L319.3 1144.9L318.5 1148.2L317.3 1149.9"/>
<path class="t5" style="stroke:#666;stroke-width:.5" d="M342.8 1112.4L337.3 1117.9"/>
<path class="t5" style="stroke:#666;stroke-width:.5" d="M337.3 1117.9L340.3 1119.9L343.8 1120.4L347 1119.7L348.8 1118.4"/>
<path class="m" style="stroke-width:1.2" d="M322.8 1155.4L354.3 1123.9"/>
<path class="t" d="M324.1 1156.7L348.6 1132.2"/>
<path class="m" style="stroke-width:1.3" d="M325.9 1125.8L329.9 1121.8L325.9 1117.8"/>
<path class="m" style="stroke-width:1.3" d="M324.4 1127.3L320.4 1131.3L324.4 1135.3L328.4 1131.3"/>
<path class="m" style="stroke-width:1.3" d="M347.3 1130.9L353.8 1137.4"/>
<path class="t" d="M351.3 1126.9L357.8 1133.4"/>
<path class="m" d="M349.8 1133.4L353.8 1129.4"/>
<path class="t" d="M327.1 1153.7L332.3 1158.9"/>
<path class="m" style="stroke-width:1.3" d="M330.6 1150.2L335.8 1155.4"/>
<path class="t5" d="M333 1152.7L345.3 1140.4"/>
<path class="t5" style="stroke:#666;stroke-width:.5" d="M342 1149.2L345 1152.2L345.5 1147.7L349 1148.2L349 1144.2L352 1145.2L349 1142.2"/>
<path class="m" style="stroke:#1a1a1a;stroke-width:1.45" d="M368.5 1086.7L362.5 1080.7L394 1049.2L400 1055.2"/>
<path class="m" style="stroke:#1a1a1a;stroke-width:1.45" d="M374.5 1092.7L386.5 1104.7L418 1073.2L406 1061.2"/>
<path class="t5" style="stroke:#666;stroke-width:.5" d="M368.5 1086.7L374 1081.2"/>
<path class="t5" style="stroke:#666;stroke-width:.5" d="M374 1081.2L376 1084.2L376.5 1087.7L375.7 1091L374.5 1092.7"/>
<path class="t5" style="stroke:#666;stroke-width:.5" d="M400 1055.2L394.5 1060.7"/>
<path class="t5" style="stroke:#666;stroke-width:.5" d="M394.5 1060.7L397.5 1062.7L401 1063.2L404.2 1062.5L406 1061.2"/>
<path class="m" style="stroke-width:1.2" d="M380 1098.2L411.5 1066.7"/>
<path class="t" d="M381.3 1099.5L405.8 1075"/>
<path class="m" style="stroke-width:1.3" d="M383.1 1068.6L387.1 1064.6L383.1 1060.6"/>
<path class="m" style="stroke-width:1.3" d="M381.6 1070.1L377.6 1074.1L381.6 1078.1L385.6 1074.1"/>
<path class="m" style="stroke-width:1.3" d="M404.5 1073.7L411 1080.2"/>
<path class="t" d="M408.5 1069.7L415 1076.2"/>
<path class="m" d="M407 1076.2L411 1072.2"/>
<path class="t" d="M384.3 1096.5L389.5 1101.7"/>
<path class="m" style="stroke-width:1.3" d="M387.8 1093L393 1098.2"/>
<path class="t5" d="M390.2 1095.5L402.5 1083.2"/>
<path class="t5" style="stroke:#666;stroke-width:.5" d="M399.2 1092L402.2 1095L402.7 1090.5L406.2 1091L406.2 1087L409.2 1088L406.2 1085"/>
<path class="m" style="stroke:#1a1a1a;stroke-width:1.45" d="M425.7 1029.5L419.7 1023.5L451.2 992L457.2 998"/>
<path class="m" style="stroke:#1a1a1a;stroke-width:1.45" d="M431.7 1035.5L443.7 1047.5L475.2 1016L463.2 1004"/>
<path class="t5" style="stroke:#666;stroke-width:.5" d="M425.7 1029.5L431.2 1024"/>
<path class="t5" style="stroke:#666;stroke-width:.5" d="M431.2 1024L433.2 1027L433.7 1030.5L432.9 1033.8L431.7 1035.5"/>
<path class="t5" style="stroke:#666;stroke-width:.5" d="M457.2 998L451.7 1003.5"/>
<path class="t5" style="stroke:#666;stroke-width:.5" d="M451.7 1003.5L454.7 1005.5L458.2 1006L461.4 1005.3L463.2 1004"/>
<path class="m" style="stroke-width:1.2" d="M437.2 1041L468.7 1009.5"/>
<path class="t" d="M438.5 1042.3L463 1017.8"/>
<path class="m" style="stroke-width:1.3" d="M440.3 1011.4L444.3 1007.4L440.3 1003.4"/>
<path class="m" style="stroke-width:1.3" d="M438.8 1012.9L434.8 1016.9L438.8 1020.9L442.8 1016.9"/>
<path class="m" style="stroke-width:1.3" d="M461.7 1016.5L468.2 1023"/>
<path class="t" d="M465.7 1012.5L472.2 1019"/>
<path class="m" d="M464.2 1019L468.2 1015"/>
<path class="t" d="M441.5 1039.3L446.7 1044.5"/>
<path class="m" style="stroke-width:1.3" d="M445 1035.8L450.2 1041"/>
<path class="t5" d="M447.4 1038.3L459.7 1026"/>
<path class="t5" style="stroke:#666;stroke-width:.5" d="M456.4 1034.8L459.4 1037.8L459.9 1033.3L463.4 1033.8L463.4 1029.8L466.4 1030.8L463.4 1027.8"/>
<path class="m" style="stroke:#1a1a1a;stroke-width:1.45" d="M482.9 972.3L476.9 966.3L508.4 934.8L514.4 940.8"/>
<path class="m" style="stroke:#1a1a1a;stroke-width:1.45" d="M488.9 978.3L500.9 990.3L532.4 958.8L520.4 946.8"/>
<path class="t5" style="stroke:#666;stroke-width:.5" d="M482.9 972.3L488.4 966.8"/>
<path class="t5" style="stroke:#666;stroke-width:.5" d="M488.4 966.8L490.4 969.8L490.9 973.3L490.2 976.5L488.9 978.3"/>
<path class="t5" style="stroke:#666;stroke-width:.5" d="M514.4 940.8L508.9 946.3"/>
<path class="t5" style="stroke:#666;stroke-width:.5" d="M508.9 946.3L511.9 948.3L515.4 948.8L518.7 948L520.4 946.8"/>
<path class="m" style="stroke-width:1.2" d="M494.4 983.8L525.9 952.3"/>
<path class="t" d="M495.7 985.1L520.2 960.6"/>
<path class="m" style="stroke-width:1.3" d="M497.6 954.1L501.6 950.1L497.6 946.1"/>
<path class="m" style="stroke-width:1.3" d="M496.1 955.6L492.1 959.6L496.1 963.6L500.1 959.6"/>
<path class="m" style="stroke-width:1.3" d="M518.9 959.3L525.4 965.8"/>
<path class="t" d="M522.9 955.3L529.4 961.8"/>
<path class="m" d="M521.4 961.8L525.4 957.8"/>
<path class="t" d="M498.7 982.1L503.9 987.3"/>
<path class="m" style="stroke-width:1.3" d="M502.2 978.6L507.4 983.8"/>
<path class="t5" d="M504.7 981L516.9 968.8"/>
<path class="t5" style="stroke:#666;stroke-width:.5" d="M513.7 977.5L516.7 980.5L517.2 976L520.7 976.5L520.7 972.5L523.7 973.5L520.7 970.5"/>
<path class="m" style="stroke:#1a1a1a;stroke-width:1.45" d="M540.1 915.1L534.1 909.1L565.6 877.6L571.6 883.6"/>
<path class="m" style="stroke:#1a1a1a;stroke-width:1.45" d="M546.1 921.1L558.1 933.1L589.6 901.6L577.6 889.6"/>
<path class="t5" style="stroke:#666;stroke-width:.5" d="M540.1 915.1L545.6 909.6"/>
<path class="t5" style="stroke:#666;stroke-width:.5" d="M545.6 909.6L547.6 912.6L548.1 916.1L547.4 919.3L546.1 921.1"/>
<path class="t5" style="stroke:#666;stroke-width:.5" d="M571.6 883.6L566.1 889.1"/>
<path class="t5" style="stroke:#666;stroke-width:.5" d="M566.1 889.1L569.1 891.1L572.6 891.6L575.9 890.8L577.6 889.6"/>
<path class="m" style="stroke-width:1.2" d="M551.6 926.6L583.1 895.1"/>
<path class="t" d="M552.9 927.9L577.4 903.4"/>
<path class="m" style="stroke-width:1.3" d="M554.8 896.9L558.8 892.9L554.8 888.9"/>
<path class="m" style="stroke-width:1.3" d="M553.3 898.4L549.3 902.4L553.3 906.4L557.3 902.4"/>
<path class="m" style="stroke-width:1.3" d="M576.1 902.1L582.6 908.6"/>
<path class="t" d="M580.1 898.1L586.6 904.6"/>
<path class="m" d="M578.6 904.6L582.6 900.6"/>
<path class="t" d="M555.9 924.9L561.1 930.1"/>
<path class="m" style="stroke-width:1.3" d="M559.4 921.4L564.6 926.6"/>
<path class="t5" d="M561.9 923.8L574.1 911.6"/>
<path class="t5" style="stroke:#666;stroke-width:.5" d="M570.9 920.3L573.9 923.3L574.4 918.8L577.9 919.3L577.9 915.3L580.9 916.3L577.9 913.3"/>
<path class="m" style="stroke:#1a1a1a;stroke-width:1.45" d="M597.3 857.9L591.3 851.9L622.8 820.4L628.8 826.4"/>
<path class="m" style="stroke:#1a1a1a;stroke-width:1.45" d="M603.3 863.9L615.3 875.9L646.8 844.4L634.8 832.4"/>
<path class="t5" style="stroke:#666;stroke-width:.5" d="M597.3 857.9L602.8 852.4"/>
<path class="t5" style="stroke:#666;stroke-width:.5" d="M602.8 852.4L604.8 855.4L605.3 858.9L604.6 862.1L603.3 863.9"/>
<path class="t5" style="stroke:#666;stroke-width:.5" d="M628.8 826.4L623.3 831.9"/>
<path class="t5" style="stroke:#666;stroke-width:.5" d="M623.3 831.9L626.3 833.9L629.8 834.4L633.1 833.6L634.8 832.4"/>
<path class="m" style="stroke-width:1.2" d="M608.8 869.4L640.3 837.9"/>
<path class="t" d="M610.1 870.7L634.6 846.2"/>
<path class="m" style="stroke-width:1.3" d="M612 839.7L616 835.7L612 831.7"/>
<path class="m" style="stroke-width:1.3" d="M610.5 841.2L606.5 845.2L610.5 849.2L614.5 845.2"/>
<path class="m" style="stroke-width:1.3" d="M633.3 844.9L639.8 851.4"/>
<path class="t" d="M637.3 840.9L643.8 847.4"/>
<path class="m" d="M635.8 847.4L639.8 843.4"/>
<path class="t" d="M613.1 867.7L618.3 872.9"/>
<path class="m" style="stroke-width:1.3" d="M616.6 864.2L621.8 869.4"/>
<path class="t5" d="M619.1 866.6L631.3 854.4"/>
<path class="t5" style="stroke:#666;stroke-width:.5" d="M628.1 863.1L631.1 866.1L631.6 861.6L635.1 862.1L635.1 858.1L638.1 859.1L635.1 856.1"/>
<path class="t5" style="stroke:#444;stroke-width:.6" d="M260.5 1230.2L252.8 1222.5"/>
<path class="t5" style="stroke:#666;stroke-width:.5" d="M252.7 1222.4L255 1220.7L257.7 1219.6L260.5 1219.2L263.3 1219.6L266 1220.7L268.3 1222.4"/>
<path class="t5" style="stroke:#444;stroke-width:.6" d="M310.7 1180L303 1172.2"/>
<path class="t5" style="stroke:#666;stroke-width:.5" d="M302.9 1187.8L301.2 1185.5L300.1 1182.8L299.7 1180L300.1 1177.2L301.2 1174.5L302.9 1172.2"/>
<path class="t5" style="stroke:#444;stroke-width:.6" d="M319.7 1171L312 1163.2"/>
<path class="t5" style="stroke:#666;stroke-width:.5" d="M311.9 1163.2L314.2 1161.5L316.9 1160.4L319.7 1160L322.5 1160.4L325.2 1161.5L327.5 1163.2"/>
<path class="t5" style="stroke:#444;stroke-width:.6" d="M367.9 1122.8L360.2 1115"/>
<path class="t5" style="stroke:#666;stroke-width:.5" d="M360.1 1130.6L358.4 1128.3L357.3 1125.6L356.9 1122.8L357.3 1119.9L358.4 1117.3L360.1 1115"/>
<path class="t5" style="stroke:#444;stroke-width:.6" d="M376.9 1113.8L369.2 1106"/>
<path class="t5" style="stroke:#666;stroke-width:.5" d="M369.1 1106L371.4 1104.3L374.1 1103.2L376.9 1102.8L379.8 1103.2L382.4 1104.3L384.7 1106"/>
<path class="t5" style="stroke:#444;stroke-width:.6" d="M425.1 1065.6L417.4 1057.8"/>
<path class="t5" style="stroke:#666;stroke-width:.5" d="M417.4 1073.3L415.6 1071.1L414.5 1068.4L414.1 1065.6L414.5 1062.7L415.6 1060.1L417.4 1057.8"/>
<path class="t5" style="stroke:#444;stroke-width:.6" d="M434.1 1056.6L426.4 1048.8"/>
<path class="t5" style="stroke:#666;stroke-width:.5" d="M426.4 1048.8L428.6 1047L431.3 1045.9L434.1 1045.6L437 1045.9L439.6 1047L441.9 1048.8"/>
<path class="t5" style="stroke:#444;stroke-width:.6" d="M482.3 1008.4L474.6 1000.6"/>
<path class="t5" style="stroke:#666;stroke-width:.5" d="M474.6 1016.1L472.8 1013.9L471.7 1011.2L471.3 1008.4L471.7 1005.5L472.8 1002.9L474.6 1000.6"/>
<path class="t5" style="stroke:#444;stroke-width:.6" d="M491.3 999.4L483.6 991.6"/>
<path class="t5" style="stroke:#666;stroke-width:.5" d="M483.6 991.6L485.8 989.8L488.5 988.7L491.3 988.4L494.2 988.7L496.8 989.8L499.1 991.6"/>
<path class="t5" style="stroke:#444;stroke-width:.6" d="M539.6 951.1L531.8 943.4"/>
<path class="t5" style="stroke:#666;stroke-width:.5" d="M531.8 958.9L530 956.6L528.9 954L528.6 951.1L528.9 948.3L530 945.6L531.8 943.4"/>
<path class="t5" style="stroke:#444;stroke-width:.6" d="M548.6 942.1L540.8 934.4"/>
<path class="t5" style="stroke:#666;stroke-width:.5" d="M540.8 934.4L543.1 932.6L545.7 931.5L548.6 931.1L551.4 931.5L554.1 932.6L556.3 934.4"/>
<path class="t5" style="stroke:#444;stroke-width:.6" d="M596.8 893.9L589 886.2"/>
<path class="t5" style="stroke:#666;stroke-width:.5" d="M589 901.7L587.2 899.4L586.1 896.8L585.8 893.9L586.1 891.1L587.2 888.4L589 886.1"/>
<path class="t5" style="stroke:#444;stroke-width:.6" d="M605.8 884.9L598 877.2"/>
<path class="t5" style="stroke:#666;stroke-width:.5" d="M598 877.1L600.3 875.4L602.9 874.3L605.8 873.9L608.6 874.3L611.3 875.4L613.6 877.1"/>
<path class="t5" style="stroke:#444;stroke-width:.6" d="M654 836.7L646.2 829"/>
<path class="t5" style="stroke:#666;stroke-width:.5" d="M646.2 844.5L644.5 842.2L643.4 839.6L643 836.7L643.4 833.9L644.5 831.2L646.2 828.9"/>
<path class="k" style="stroke-width:2.9" d="M366.9 1168.5L366.9 1223.5"/>
<path class="wfill" style="stroke:#e4e4e4;stroke-width:1.6" d="M366.9 1223.5L366.9 1249"/>
<path class="t5" style="stroke:#555;stroke-width:.6" d="M365.8 1223.5L365.8 1249"/>
<path class="t5" style="stroke:#555;stroke-width:.6" d="M368 1223.5L368 1249"/>
<path class="k" style="stroke-width:3.6" d="M366.9 1249L366.9 1301.1"/>
<path class="k" style="stroke-width:2.9" d="M409.6 1125.8L409.6 1180.8"/>
<path class="wfill" style="stroke:#e4e4e4;stroke-width:1.6" d="M409.6 1180.8L409.6 1206.2"/>
<path class="t5" style="stroke:#555;stroke-width:.6" d="M408.5 1180.8L408.5 1206.2"/>
<path class="t5" style="stroke:#555;stroke-width:.6" d="M410.8 1180.8L410.8 1206.2"/>
<path class="k" style="stroke-width:3.6" d="M409.6 1206.2L409.6 1258.3"/>
<path class="wfill" style="stroke:#fff;stroke-width:1.3" d="M409.1 1211.8L409.1 1249.8"/>
<path class="k" style="stroke-width:2.9" d="M452.4 1083L452.4 1138"/>
<path class="wfill" style="stroke:#e4e4e4;stroke-width:1.6" d="M452.4 1138L452.4 1163.5"/>
<path class="t5" style="stroke:#555;stroke-width:.6" d="M451.3 1138L451.3 1163.5"/>
<path class="t5" style="stroke:#555;stroke-width:.6" d="M453.5 1138L453.5 1163.5"/>
<path class="k" style="stroke-width:3.6" d="M452.4 1163.5L452.4 1215.6"/>
<path class="k" style="stroke-width:2.9" d="M495.1 1040.2L495.1 1094.2"/>
<path class="wfill" style="stroke:#e4e4e4;stroke-width:1.6" d="M495.1 1094.2L495.1 1120.8"/>
<path class="t5" style="stroke:#555;stroke-width:.6" d="M494 1094.2L494 1120.8"/>
<path class="t5" style="stroke:#555;stroke-width:.6" d="M496.2 1094.2L496.2 1120.8"/>
<path class="k" style="stroke-width:3.6" d="M495.1 1120.8L495.1 1172.8"/>
<path class="wfill" style="stroke:#fff;stroke-width:1.3" d="M494.6 1126.2L494.6 1164.2"/>
<path class="k" style="stroke-width:2.9" d="M537.9 997.5L537.9 1056.5"/>
<path class="wfill" style="stroke:#e4e4e4;stroke-width:1.6" d="M537.9 1056.5L537.9 1078"/>
<path class="t5" style="stroke:#555;stroke-width:.6" d="M536.8 1056.5L536.8 1078"/>
<path class="t5" style="stroke:#555;stroke-width:.6" d="M539 1056.5L539 1078"/>
<path class="k" style="stroke-width:3.6" d="M537.9 1078L537.9 1133.9"/>
<path class="bf" d="M579 956.2L582.2 953.2L582.2 962.8L579 962.8Z"/>
<path class="wfill" style="stroke:#bdbdbd;stroke-width:2.6;stroke-dasharray:1.2 .8" d="M580.6 962.8L580.6 1036.8"/>
<path class="t5" style="stroke:#777;stroke-width:.5" d="M579.1 962.8L579.1 1036.8"/>
<path class="t5" style="stroke:#777;stroke-width:.5" d="M582.1 962.8L582.1 1036.8"/>
<rect class="bf" x="577" y="1002.8" width="5" height="5"/>
<path class="k" style="stroke-width:3.6" d="M580.6 1035.2L580.6 1091.2"/>
<path class="k" style="stroke-width:2.9" d="M623.4 912L623.4 970.5"/>
<path class="wfill" style="stroke:#e4e4e4;stroke-width:1.6" d="M623.4 970.5L623.4 992.5"/>
<path class="t5" style="stroke:#555;stroke-width:.6" d="M622.3 970.5L622.3 992.5"/>
<path class="t5" style="stroke:#555;stroke-width:.6" d="M624.5 970.5L624.5 992.5"/>
<path class="k" style="stroke-width:3.6" d="M623.4 992.5L623.4 1048.4"/>
<path class="k" style="stroke-width:2.9" d="M666.1 869.2L666.1 922.2"/>
<path class="wfill" style="stroke:#e4e4e4;stroke-width:1.6" d="M666.1 922.2L666.1 949.8"/>
<path class="t5" style="stroke:#555;stroke-width:.6" d="M665 922.2L665 949.8"/>
<path class="t5" style="stroke:#555;stroke-width:.6" d="M667.2 922.2L667.2 949.8"/>
<path class="k" style="stroke-width:3.6" d="M666.1 949.8L666.1 1005.6"/>
<path class="k" style="stroke-width:4.2" d="M709.1 823.5L709.1 960.5"/>
<path class="bf" d="M319.9 1214.1L326.6 1207.8L326.9 1219.8L320.6 1219.8Z"/>
<rect class="wf" style="stroke-width:.55;stroke:#555" x="330.5" y="1204.2" width="2" height="12.5"/>
<path class="t5" style="stroke:#666;stroke-width:.5" d="M344 1204.8L343.9 1206.6L343.5 1208.5L342.7 1210.2L341.8 1211.8L340.5 1213.2L339.1 1214.5L337.5 1215.4L335.8 1216.2L333.9 1216.6L332 1216.8"/>
<path class="m" style="stroke:#222;stroke-width:1.3" d="M366.9 1221.2L345.2 1221.2L345.2 1215.5"/>
<path class="m" style="stroke:#222;stroke-width:1.3" d="M343.6 1206.2L353.2 1206.2"/>
<path class="t5" style="stroke:#666;stroke-width:.6" d="M344.4 1206.2L344.4 1189.9"/>
<path class="t5" style="stroke:#666;stroke-width:.6" d="M346.1 1206.2L346.1 1190.7"/>
<path class="t5" style="stroke:#222;stroke-width:.75" d="M344.4 1189.9L357.3 1177.5"/>
<path class="t5" style="stroke:#222;stroke-width:.75" d="M346.1 1190.7L358.7 1178.9"/>
<path class="t5" style="stroke:#555;stroke-width:.6" d="M352.2 1184.7L366.9 1184.7"/>
<path class="t5" style="stroke:#555;stroke-width:.6" d="M353.4 1186.1L366.9 1186.1"/>
<rect class="t5" style="stroke:#333;stroke-width:.7" x="360.7" y="1207" width="4.6" height="13.4"/>
<path class="t5" d="M360.7 1213L365.3 1213"/>
<path class="t5" d="M362.9 1214.5L362.9 1218.5"/>
<path class="hh" style="stroke:#9c9c9c;stroke-width:.55" d="M328.8 1296.8V1318.2M331.9 1296.8V1318.2M335.0 1296.8V1318.2M338.1 1296.8V1318.2M341.2 1296.8V1318.2M344.3 1296.8V1318.2M347.4 1296.8V1318.2M350.5 1296.8V1318.2M353.6 1296.8V1318.2"/>
<path class="hh" style="stroke:#9c9c9c;stroke-width:.55" d="M325.9 1299.5H356.3M325.9 1302.5H356.3M325.9 1305.6H356.3M325.9 1308.7H356.3M325.9 1311.8H356.3M325.9 1314.9H356.3M325.9 1318.0H356.3"/>
<path class="g2" style="stroke:#a8a8a8;stroke-width:2" d="M325.9 1319.2L356.5 1319.2"/>
<rect class="wf" style="stroke:#000;stroke-width:1.1" x="356.5" y="1301.2" width="8.8" height="18.2"/>
<rect class="t5" x="358.5" y="1303.8" width="4.8" height="11.5"/>
<path class="t5" d="M358.5 1306.2L363.3 1312.8"/>
<rect class="gf" style="fill:#b8b8b8" x="332.8" y="1294" width="15.6" height="2.2"/>
<rect class="bf" x="322.3" y="1293.2" width="9.8" height="4.3"/>
<rect class="bf" x="359.7" y="1293.2" width="7.2" height="7.2"/>
<rect class="wf" style="stroke:#000;stroke-width:.9" x="355.7" y="1294" width="4" height="2.8"/>
<rect class="wf" style="stroke:#000;stroke-width:.8" x="359.5" y="1317.8" width="5.6" height="2.4"/>
<path class="k" style="stroke-width:3.1" d="M358.1 1177.3L373.5 1161.9"/>
<rect class="wf" style="stroke-width:.55;stroke:#555" x="373.3" y="1161.5" width="2" height="12.5"/>
<path class="t5" style="stroke:#666;stroke-width:.5" d="M386.8 1162L386.7 1163.9L386.2 1165.7L385.5 1167.4L384.5 1169.1L383.3 1170.5L381.9 1171.7L380.2 1172.7L378.5 1173.4L376.7 1173.9L374.8 1174"/>
<path class="t5" style="stroke:#777;stroke-width:.5" d="M353.4 1182L349.9 1177L352.9 1174L356.9 1177.5"/>
<path class="m" style="stroke:#222;stroke-width:1.3" d="M409.6 1178.4L388 1178.4L388 1172.8"/>
<path class="m" style="stroke:#222;stroke-width:1.3" d="M386.4 1163.5L396 1163.5"/>
<path class="t5" style="stroke:#666;stroke-width:.6" d="M387.1 1163.5L387.1 1147.2"/>
<path class="t5" style="stroke:#666;stroke-width:.6" d="M388.9 1163.5L388.9 1148"/>
<path class="t5" style="stroke:#222;stroke-width:.75" d="M387.1 1147.2L400 1134.8"/>
<path class="t5" style="stroke:#222;stroke-width:.75" d="M388.9 1148L401.4 1136.2"/>
<path class="t5" style="stroke:#555;stroke-width:.6" d="M394.9 1142L409.6 1142"/>
<path class="t5" style="stroke:#555;stroke-width:.6" d="M396.1 1143.3L409.6 1143.3"/>
<rect class="t5" style="stroke:#333;stroke-width:.7" x="403.4" y="1164.2" width="4.6" height="13.4"/>
<path class="t5" d="M403.4 1170.2L408 1170.2"/>
<path class="t5" d="M405.6 1171.8L405.6 1175.8"/>
<path class="hh" style="stroke:#9c9c9c;stroke-width:.55" d="M371.5 1254.0V1275.5M374.6 1254.0V1275.5M377.7 1254.0V1275.5M380.8 1254.0V1275.5M383.9 1254.0V1275.5M387.0 1254.0V1275.5M390.1 1254.0V1275.5M393.2 1254.0V1275.5M396.3 1254.0V1275.5"/>
<path class="hh" style="stroke:#9c9c9c;stroke-width:.55" d="M368.7 1256.7H399.0M368.7 1259.8H399.0M368.7 1262.9H399.0M368.7 1266.0H399.0M368.7 1269.1H399.0M368.7 1272.2H399.0M368.7 1275.3H399.0"/>
<path class="g2" style="stroke:#a8a8a8;stroke-width:2" d="M368.7 1276.5L399.2 1276.5"/>
<rect class="wf" style="stroke:#000;stroke-width:1.1" x="399.2" y="1258.5" width="8.8" height="18.2"/>
<rect class="t5" x="401.2" y="1261.1" width="4.8" height="11.5"/>
<path class="t5" d="M401.2 1263.5L406 1270.1"/>
<rect class="gf" style="fill:#b8b8b8" x="375.5" y="1251.3" width="15.6" height="2.2"/>
<rect class="bf" x="365.1" y="1250.5" width="9.8" height="4.3"/>
<rect class="bf" x="402.4" y="1250.5" width="7.2" height="7.2"/>
<rect class="wf" style="stroke:#000;stroke-width:.9" x="398.4" y="1251.3" width="4" height="2.8"/>
<rect class="wf" style="stroke:#000;stroke-width:.8" x="402.2" y="1275.1" width="5.6" height="2.4"/>
<path class="k" style="stroke-width:3.1" d="M400.8 1134.5L416.2 1119.2"/>
<rect class="wf" style="stroke-width:.55;stroke:#555" x="416" y="1118.8" width="2" height="12.5"/>
<path class="t5" style="stroke:#666;stroke-width:.5" d="M429.5 1119.2L429.4 1121.1L429 1123L428.2 1124.7L427.3 1126.3L426 1127.7L424.6 1129L423 1129.9L421.3 1130.7L419.4 1131.1L417.5 1131.2"/>
<path class="t5" style="stroke:#777;stroke-width:.5" d="M396.1 1139.2L392.6 1134.2L395.6 1131.2L399.6 1134.8"/>
<path class="m" style="stroke:#222;stroke-width:1.3" d="M452.4 1135.7L430.8 1135.7L430.8 1130"/>
<path class="m" style="stroke:#222;stroke-width:1.3" d="M429.1 1120.8L438.8 1120.8"/>
<path class="t5" style="stroke:#666;stroke-width:.6" d="M429.9 1120.8L429.9 1104.4"/>
<path class="t5" style="stroke:#666;stroke-width:.6" d="M431.6 1120.8L431.6 1105.2"/>
<path class="t5" style="stroke:#222;stroke-width:.75" d="M429.9 1104.4L442.8 1092"/>
<path class="t5" style="stroke:#222;stroke-width:.75" d="M431.6 1105.2L444.2 1093.4"/>
<path class="t5" style="stroke:#555;stroke-width:.6" d="M437.7 1099.2L452.4 1099.2"/>
<path class="t5" style="stroke:#555;stroke-width:.6" d="M438.9 1100.6L452.4 1100.6"/>
<rect class="t5" style="stroke:#333;stroke-width:.7" x="446.2" y="1121.5" width="4.6" height="13.4"/>
<path class="t5" d="M446.2 1127.5L450.8 1127.5"/>
<path class="t5" d="M448.4 1129L448.4 1133"/>
<path class="hh" style="stroke:#9c9c9c;stroke-width:.55" d="M414.2 1211.2V1232.8M417.4 1211.2V1232.8M420.5 1211.2V1232.8M423.6 1211.2V1232.8M426.7 1211.2V1232.8M429.8 1211.2V1232.8M432.9 1211.2V1232.8M436.0 1211.2V1232.8M439.1 1211.2V1232.8"/>
<path class="hh" style="stroke:#9c9c9c;stroke-width:.55" d="M411.4 1214.0H441.8M411.4 1217.0H441.8M411.4 1220.1H441.8M411.4 1223.2H441.8M411.4 1226.3H441.8M411.4 1229.4H441.8M411.4 1232.5H441.8"/>
<path class="g2" style="stroke:#a8a8a8;stroke-width:2" d="M411.4 1233.8L442 1233.8"/>
<rect class="wf" style="stroke:#000;stroke-width:1.1" x="442" y="1215.8" width="8.8" height="18.2"/>
<rect class="t5" x="444" y="1218.3" width="4.8" height="11.5"/>
<path class="t5" d="M444 1220.8L448.8 1227.3"/>
<rect class="gf" style="fill:#b8b8b8" x="418.2" y="1208.5" width="15.6" height="2.2"/>
<rect class="bf" x="407.8" y="1207.8" width="9.8" height="4.3"/>
<rect class="bf" x="445.2" y="1207.8" width="7.2" height="7.2"/>
<rect class="wf" style="stroke:#000;stroke-width:.9" x="441.2" y="1208.5" width="4" height="2.8"/>
<rect class="wf" style="stroke:#000;stroke-width:.8" x="445" y="1232.3" width="5.6" height="2.4"/>
<path class="k" style="stroke-width:3.1" d="M443.6 1091.8L459 1076.4"/>
<rect class="wf" style="stroke-width:.55;stroke:#555" x="458.8" y="1076" width="2" height="12.5"/>
<path class="t5" style="stroke:#666;stroke-width:.5" d="M472.3 1076.5L472.2 1078.4L471.7 1080.2L471 1081.9L470 1083.6L468.8 1085L467.4 1086.2L465.7 1087.2L464 1087.9L462.2 1088.4L460.3 1088.5"/>
<path class="t5" style="stroke:#777;stroke-width:.5" d="M438.9 1096.5L435.4 1091.5L438.4 1088.5L442.4 1092"/>
<path class="m" style="stroke:#222;stroke-width:1.3" d="M495.1 1092.9L473.5 1092.9L473.5 1087.2"/>
<path class="m" style="stroke:#222;stroke-width:1.3" d="M471.9 1078L481.5 1078"/>
<path class="t5" style="stroke:#666;stroke-width:.6" d="M472.6 1078L472.6 1061.7"/>
<path class="t5" style="stroke:#666;stroke-width:.6" d="M474.4 1078L474.4 1062.5"/>
<path class="t5" style="stroke:#222;stroke-width:.75" d="M472.6 1061.7L485.5 1049.2"/>
<path class="t5" style="stroke:#222;stroke-width:.75" d="M474.4 1062.5L486.9 1050.7"/>
<path class="t5" style="stroke:#555;stroke-width:.6" d="M480.4 1056.5L495.1 1056.5"/>
<path class="t5" style="stroke:#555;stroke-width:.6" d="M481.6 1057.8L495.1 1057.8"/>
<rect class="t5" style="stroke:#333;stroke-width:.7" x="488.9" y="1078.8" width="4.6" height="13.4"/>
<path class="t5" d="M488.9 1084.8L493.5 1084.8"/>
<path class="t5" d="M491.1 1086.2L491.1 1090.2"/>
<path class="hh" style="stroke:#b4b4b4;stroke-width:.9" d="M455.4 1169.5V1183.4M457.4 1169.5V1183.4M459.4 1169.5V1183.4M461.4 1169.5V1183.4M463.4 1169.5V1183.4M465.4 1169.5V1183.4M467.4 1169.5V1183.4M469.4 1169.5V1183.4M471.4 1169.5V1183.4M473.4 1169.5V1183.4M475.4 1169.5V1183.4M477.4 1169.5V1183.4M479.4 1169.5V1183.4M481.4 1169.5V1183.4M483.4 1169.5V1183.4"/>
<path class="m" style="stroke-width:1.3" d="M454.2 1183.6L484.8 1183.6"/>
<path class="g2" style="stroke:#aaa;stroke-width:1" d="M454.2 1190.2L484.8 1190.2"/>
<rect class="wf" style="stroke:#000;stroke-width:1.1" x="484.8" y="1173" width="8.8" height="18.2"/>
<rect class="t5" x="486.8" y="1175.6" width="4.8" height="11.5"/>
<path class="t5" d="M486.8 1178L491.5 1184.6"/>
<rect class="gf" style="fill:#b8b8b8" x="461" y="1165.8" width="15.6" height="2.2"/>
<rect class="bf" x="450.6" y="1165" width="9.8" height="4.3"/>
<rect class="bf" x="487.9" y="1165" width="7.2" height="7.2"/>
<rect class="wf" style="stroke:#000;stroke-width:.9" x="483.9" y="1165.8" width="4" height="2.8"/>
<rect class="wf" style="stroke:#000;stroke-width:.8" x="487.8" y="1189.6" width="5.6" height="2.4"/>
<path class="k" style="stroke-width:3.1" d="M486.3 1049L501.8 1033.7"/>
<rect class="wf" style="stroke-width:.55;stroke:#555" x="501.5" y="1033.2" width="2" height="12.5"/>
<path class="t5" style="stroke:#666;stroke-width:.5" d="M515 1033.8L514.9 1035.6L514.5 1037.5L513.7 1039.2L512.8 1040.8L511.5 1042.2L510.1 1043.5L508.5 1044.4L506.8 1045.2L504.9 1045.6L503 1045.8"/>
<path class="t5" style="stroke:#777;stroke-width:.5" d="M481.6 1053.8L478.1 1048.8L481.1 1045.8L485.1 1049.2"/>
<path class="m" style="stroke:#222;stroke-width:1.3" d="M537.9 1050.2L516.2 1050.2L516.2 1044.5"/>
<path class="m" style="stroke:#222;stroke-width:1.3" d="M514.6 1035.2L524.2 1035.2"/>
<path class="t5" style="stroke:#666;stroke-width:.6" d="M515.4 1035.2L515.4 1018.9"/>
<path class="t5" style="stroke:#666;stroke-width:.6" d="M517.1 1035.2L517.1 1019.7"/>
<path class="t5" style="stroke:#222;stroke-width:.75" d="M515.4 1018.9L528.3 1006.5"/>
<path class="t5" style="stroke:#222;stroke-width:.75" d="M517.1 1019.7L529.7 1007.9"/>
<path class="t5" style="stroke:#555;stroke-width:.6" d="M523.2 1013.7L537.9 1013.7"/>
<path class="t5" style="stroke:#555;stroke-width:.6" d="M524.4 1015.1L537.9 1015.1"/>
<rect class="t5" style="stroke:#333;stroke-width:.7" x="531.7" y="1036" width="4.6" height="13.4"/>
<path class="t5" d="M531.7 1042L536.3 1042"/>
<path class="t5" d="M533.9 1043.5L533.9 1047.5"/>
<path class="hh" style="stroke:#b4b4b4;stroke-width:.9" d="M503.9 1126.8V1140.2M505.9 1126.8V1140.2M507.9 1126.8V1140.2M509.9 1126.8V1140.2M511.9 1126.8V1140.2M514.0 1126.8V1140.2M516.0 1126.8V1140.2M518.0 1126.8V1140.2M520.0 1126.8V1140.2M522.0 1126.8V1140.2M524.0 1126.8V1140.2M526.0 1126.8V1140.2M528.0 1126.8V1140.2M530.0 1126.8V1140.2M532.0 1126.8V1140.2"/>
<rect class="gf" style="fill:#b0b0b0" x="503.9" y="1122.8" width="19.2" height="2.6"/>
<rect class="bf" x="493.5" y="1122.2" width="9.8" height="3.8"/>
<rect class="wfill" x="495.9" y="1123.5" width="6.4" height="1.4"/>
<rect class="wf" style="stroke:#000;stroke-width:1" x="497.1" y="1126" width="5.6" height="14"/>
<path class="t5" d="M498.1 1127.2L501.8 1130.2L498.1 1133.2L501.8 1136.2L498.1 1138.8"/>
<path class="m" style="stroke-width:1.2" d="M496.9 1140.5L533.5 1140.5"/>
<path class="t" d="M533 1130.2L533 1140.8"/>
<rect class="bf" x="532.5" y="1121.7" width="7.2" height="8.6"/>
<path class="m" style="stroke-width:1.5" d="M534 1130.2L534 1133.7"/>
<path class="m" style="stroke-width:1.5" d="M536.7 1130.2L536.7 1133.7"/>
<path class="k" style="stroke-width:3.1" d="M529.1 1006.3L544.5 990.9"/>
<rect class="wf" style="stroke-width:.55;stroke:#555" x="544.3" y="990.5" width="2" height="12.5"/>
<path class="t5" style="stroke:#666;stroke-width:.5" d="M557.8 991L557.7 992.9L557.2 994.7L556.5 996.4L555.5 998.1L554.3 999.5L552.9 1000.7L551.2 1001.7L549.5 1002.4L547.7 1002.9L545.8 1003"/>
<path class="t5" style="stroke:#777;stroke-width:.5" d="M524.4 1011L520.9 1006L523.9 1003L527.9 1006.5"/>
<path class="m" style="stroke:#222;stroke-width:1.3" d="M580.6 1007.4L559 1007.4L559 1001.8"/>
<path class="m" style="stroke:#222;stroke-width:1.3" d="M557.4 992.5L567 992.5"/>
<path class="t5" style="stroke:#666;stroke-width:.6" d="M558.1 992.5L558.1 976.1"/>
<path class="t5" style="stroke:#666;stroke-width:.6" d="M559.9 992.5L559.9 977"/>
<path class="t5" style="stroke:#222;stroke-width:.75" d="M558.1 976.1L571 963.8"/>
<path class="t5" style="stroke:#222;stroke-width:.75" d="M559.9 977L572.4 965.1"/>
<path class="t5" style="stroke:#555;stroke-width:.6" d="M565.9 971L580.6 971"/>
<path class="t5" style="stroke:#555;stroke-width:.6" d="M567.1 972.4L580.6 972.4"/>
<rect class="t5" style="stroke:#333;stroke-width:.7" x="574.4" y="993.2" width="4.6" height="13.4"/>
<path class="t5" d="M574.4 999.2L579 999.2"/>
<path class="t5" d="M576.6 1000.8L576.6 1004.8"/>
<path class="hh" style="stroke:#b4b4b4;stroke-width:.9" d="M546.7 1084.0V1097.5M548.7 1084.0V1097.5M550.7 1084.0V1097.5M552.7 1084.0V1097.5M554.7 1084.0V1097.5M556.7 1084.0V1097.5M558.7 1084.0V1097.5M560.7 1084.0V1097.5M562.7 1084.0V1097.5M564.7 1084.0V1097.5M566.7 1084.0V1097.5M568.7 1084.0V1097.5M570.7 1084.0V1097.5M572.7 1084.0V1097.5M574.7 1084.0V1097.5"/>
<rect class="gf" style="fill:#b0b0b0" x="546.7" y="1080.1" width="19.2" height="2.6"/>
<rect class="bf" x="536.3" y="1079.5" width="9.8" height="3.8"/>
<rect class="wfill" x="538.7" y="1080.7" width="6.4" height="1.4"/>
<rect class="wf" style="stroke:#000;stroke-width:1" x="539.9" y="1083.3" width="5.6" height="14"/>
<path class="t5" d="M540.9 1084.5L544.5 1087.5L540.9 1090.5L544.5 1093.5L540.9 1096"/>
<path class="m" style="stroke-width:1.2" d="M539.7 1097.8L576.2 1097.8"/>
<path class="t" d="M575.8 1087.5L575.8 1098.1"/>
<rect class="bf" x="575.2" y="1078.9" width="7.2" height="8.6"/>
<path class="m" style="stroke-width:1.5" d="M576.8 1087.5L576.8 1090.9"/>
<path class="m" style="stroke-width:1.5" d="M579.4 1087.5L579.4 1090.9"/>
<path class="k" style="stroke-width:2.2" d="M571.9 963.5L587.2 948.1"/>
<rect class="wf" style="stroke-width:.55;stroke:#555" x="587" y="947.8" width="2" height="12.5"/>
<path class="t5" style="stroke:#666;stroke-width:.5" d="M600.5 948.2L600.4 950.1L600 952L599.2 953.7L598.3 955.3L597 956.7L595.6 958L594 958.9L592.3 959.7L590.4 960.1L588.5 960.2"/>
<path class="t5" style="stroke:#777;stroke-width:.5" d="M567.1 968.2L563.6 963.2L566.6 960.2L570.6 963.8"/>
<path class="m" style="stroke:#222;stroke-width:1.3" d="M623.4 964.6L601.8 964.6L601.8 959"/>
<path class="m" style="stroke:#222;stroke-width:1.3" d="M600.1 949.8L609.8 949.8"/>
<path class="t5" style="stroke:#666;stroke-width:.6" d="M600.9 949.8L600.9 933.4"/>
<path class="t5" style="stroke:#666;stroke-width:.6" d="M602.6 949.8L602.6 934.2"/>
<path class="t5" style="stroke:#222;stroke-width:.75" d="M600.9 933.4L613.8 921"/>
<path class="t5" style="stroke:#222;stroke-width:.75" d="M602.6 934.2L615.2 922.4"/>
<path class="t5" style="stroke:#555;stroke-width:.6" d="M608.7 928.2L623.4 928.2"/>
<path class="t5" style="stroke:#555;stroke-width:.6" d="M609.9 929.6L623.4 929.6"/>
<rect class="t5" style="stroke:#333;stroke-width:.7" x="617.2" y="950.5" width="4.6" height="13.4"/>
<path class="t5" d="M617.2 956.5L621.8 956.5"/>
<path class="t5" d="M619.4 958L619.4 962"/>
<path class="hh" style="stroke:#b4b4b4;stroke-width:.9" d="M589.4 1041.2V1054.8M591.4 1041.2V1054.8M593.4 1041.2V1054.8M595.4 1041.2V1054.8M597.4 1041.2V1054.8M599.4 1041.2V1054.8M601.4 1041.2V1054.8M603.4 1041.2V1054.8M605.4 1041.2V1054.8M607.4 1041.2V1054.8M609.4 1041.2V1054.8M611.4 1041.2V1054.8M613.4 1041.2V1054.8M615.4 1041.2V1054.8M617.4 1041.2V1054.8"/>
<rect class="gf" style="fill:#b0b0b0" x="589.4" y="1037.3" width="19.2" height="2.6"/>
<rect class="bf" x="579" y="1036.8" width="9.8" height="3.8"/>
<rect class="wfill" x="581.4" y="1038" width="6.4" height="1.4"/>
<rect class="wf" style="stroke:#000;stroke-width:1" x="582.6" y="1040.5" width="5.6" height="14"/>
<path class="t5" d="M583.6 1041.8L587.2 1044.8L583.6 1047.8L587.2 1050.8L583.6 1053.2"/>
<path class="m" style="stroke-width:1.2" d="M582.4 1055L619 1055"/>
<path class="t" d="M618.5 1044.8L618.5 1055.3"/>
<rect class="bf" x="618" y="1036.2" width="7.2" height="8.6"/>
<path class="m" style="stroke-width:1.5" d="M619.5 1044.8L619.5 1048.2"/>
<path class="m" style="stroke-width:1.5" d="M622.2 1044.8L622.2 1048.2"/>
<path class="k" style="stroke-width:3.1" d="M614.6 920.8L630 905.4"/>
<rect class="wf" style="stroke-width:.55;stroke:#555" x="629.8" y="905" width="2" height="12.5"/>
<path class="t5" style="stroke:#666;stroke-width:.5" d="M643.3 905.5L643.2 907.4L642.7 909.2L642 910.9L641 912.6L639.8 914L638.4 915.2L636.7 916.2L635 916.9L633.2 917.4L631.3 917.5"/>
<path class="t5" style="stroke:#777;stroke-width:.5" d="M609.9 925.5L606.4 920.5L609.4 917.5L613.4 921"/>
<path class="m" style="stroke:#222;stroke-width:1.3" d="M666.1 921.9L644.5 921.9L644.5 916.2"/>
<path class="m" style="stroke:#222;stroke-width:1.3" d="M642.9 907L652.5 907"/>
<path class="t5" style="stroke:#666;stroke-width:.6" d="M643.6 907L643.6 890.6"/>
<path class="t5" style="stroke:#666;stroke-width:.6" d="M645.4 907L645.4 891.5"/>
<path class="t5" style="stroke:#222;stroke-width:.75" d="M643.6 890.6L656.5 878.2"/>
<path class="t5" style="stroke:#222;stroke-width:.75" d="M645.4 891.5L657.9 879.6"/>
<path class="t5" style="stroke:#555;stroke-width:.6" d="M651.4 885.5L666.1 885.5"/>
<path class="t5" style="stroke:#555;stroke-width:.6" d="M652.6 886.9L666.1 886.9"/>
<rect class="t5" style="stroke:#333;stroke-width:.7" x="659.9" y="907.8" width="4.6" height="13.4"/>
<path class="t5" d="M659.9 913.8L664.5 913.8"/>
<path class="t5" d="M662.1 915.2L662.1 919.2"/>
<path class="hh" style="stroke:#b4b4b4;stroke-width:.9" d="M632.2 998.5V1012.0M634.2 998.5V1012.0M636.2 998.5V1012.0M638.2 998.5V1012.0M640.2 998.5V1012.0M642.2 998.5V1012.0M644.2 998.5V1012.0M646.2 998.5V1012.0M648.2 998.5V1012.0M650.2 998.5V1012.0M652.2 998.5V1012.0M654.2 998.5V1012.0M656.2 998.5V1012.0M658.2 998.5V1012.0M660.2 998.5V1012.0"/>
<rect class="gf" style="fill:#b0b0b0" x="632.2" y="994.6" width="19.2" height="2.6"/>
<rect class="bf" x="621.8" y="994" width="9.8" height="3.8"/>
<rect class="wfill" x="624.2" y="995.2" width="6.4" height="1.4"/>
<rect class="wf" style="stroke:#000;stroke-width:1" x="625.4" y="997.8" width="5.6" height="14"/>
<path class="t5" d="M626.4 999L630 1002L626.4 1005L630 1008L626.4 1010.5"/>
<path class="m" style="stroke-width:1.2" d="M625.2 1012.3L661.8 1012.3"/>
<path class="t" d="M661.2 1002L661.2 1012.6"/>
<rect class="bf" x="660.8" y="993.4" width="7.2" height="8.6"/>
<path class="m" style="stroke-width:1.5" d="M662.2 1002L662.2 1005.4"/>
<path class="m" style="stroke-width:1.5" d="M664.9 1002L664.9 1005.4"/>
<path class="k" style="stroke-width:3.1" d="M657.4 878L672.8 862.6"/>
<rect class="wf" style="stroke-width:.55;stroke:#555" x="672.5" y="862.2" width="2" height="12.5"/>
<path class="t5" style="stroke:#666;stroke-width:.5" d="M686 862.8L685.9 864.6L685.5 866.5L684.7 868.2L683.8 869.8L682.5 871.2L681.1 872.5L679.5 873.4L677.8 874.2L675.9 874.6L674 874.8"/>
<path class="t5" style="stroke:#777;stroke-width:.5" d="M652.6 882.8L649.1 877.8L652.1 874.8L656.1 878.2"/>
<path class="m" style="stroke:#222;stroke-width:1.3" d="M708.9 879.1L687.2 879.1L687.2 873.5"/>
<path class="m" style="stroke:#222;stroke-width:1.3" d="M685.6 864.2L695.2 864.2"/>
<path class="t5" style="stroke:#666;stroke-width:.6" d="M686.4 864.2L686.4 847.9"/>
<path class="t5" style="stroke:#666;stroke-width:.6" d="M688.1 864.2L688.1 848.7"/>
<path class="t5" style="stroke:#222;stroke-width:.75" d="M686.4 847.9L699.3 835.5"/>
<path class="t5" style="stroke:#222;stroke-width:.75" d="M688.1 848.7L700.7 836.9"/>
<path class="t5" style="stroke:#555;stroke-width:.6" d="M694.2 842.7L708.9 842.7"/>
<path class="t5" style="stroke:#555;stroke-width:.6" d="M695.4 844.1L708.9 844.1"/>
<rect class="t5" style="stroke:#333;stroke-width:.7" x="702.7" y="865" width="4.6" height="13.4"/>
<path class="t5" d="M702.7 871L707.3 871"/>
<path class="t5" d="M704.9 872.5L704.9 876.5"/>
<path class="hh" style="stroke:#b4b4b4;stroke-width:.9" d="M674.9 955.8V969.2M676.9 955.8V969.2M678.9 955.8V969.2M680.9 955.8V969.2M682.9 955.8V969.2M684.9 955.8V969.2M686.9 955.8V969.2M688.9 955.8V969.2M690.9 955.8V969.2M692.9 955.8V969.2M694.9 955.8V969.2M696.9 955.8V969.2M698.9 955.8V969.2M700.9 955.8V969.2M702.9 955.8V969.2"/>
<rect class="gf" style="fill:#b0b0b0" x="674.9" y="951.9" width="19.2" height="2.6"/>
<rect class="bf" x="664.5" y="951.2" width="9.8" height="3.8"/>
<rect class="wfill" x="666.9" y="952.5" width="6.4" height="1.4"/>
<rect class="wf" style="stroke:#000;stroke-width:1" x="668.1" y="955" width="5.6" height="14"/>
<path class="t5" d="M669.1 956.2L672.8 959.2L669.1 962.2L672.8 965.2L669.1 967.8"/>
<path class="m" style="stroke-width:1.2" d="M667.9 969.5L704.5 969.5"/>
<path class="t" d="M704 959.2L704 969.9"/>
<rect class="bf" x="703.5" y="950.6" width="7.2" height="8.6"/>
<path class="m" style="stroke-width:1.5" d="M705 959.2L705 962.6"/>
<path class="m" style="stroke-width:1.5" d="M707.7 959.2L707.7 962.6"/>
<text class="n" x="186.7" y="1147" textLength="7.9" lengthAdjust="spacingAndGlyphs">6</text>
<text class="n" x="226.8" y="1175.4" textLength="7.9" lengthAdjust="spacingAndGlyphs">4</text>
<text class="n" x="215.1" y="1118.5" textLength="7.9" lengthAdjust="spacingAndGlyphs">6</text>
<text class="n" x="255.2" y="1147" textLength="7.9" lengthAdjust="spacingAndGlyphs">4</text>
<text class="n" x="243.6" y="1090.1" textLength="7.9" lengthAdjust="spacingAndGlyphs">6</text>
<text class="n" x="283.7" y="1118.5" textLength="7.9" lengthAdjust="spacingAndGlyphs">4</text>
<text class="n" x="272" y="1061.7" textLength="7.9" lengthAdjust="spacingAndGlyphs">6</text>
<text class="n" x="312.1" y="1090.1" textLength="7.9" lengthAdjust="spacingAndGlyphs">4</text>
<text class="n" x="300.5" y="1033.2" textLength="7.9" lengthAdjust="spacingAndGlyphs">6</text>
<text class="n" x="340.6" y="1061.6" textLength="7.9" lengthAdjust="spacingAndGlyphs">4</text>
<text class="n" x="328.9" y="1004.8" textLength="7.9" lengthAdjust="spacingAndGlyphs">6</text>
<text class="n" x="369.1" y="1033.2" textLength="7.9" lengthAdjust="spacingAndGlyphs">4</text>
<text class="n" x="357.4" y="976.3" textLength="7.9" lengthAdjust="spacingAndGlyphs">6</text>
<text class="n" x="397.5" y="1004.7" textLength="7.9" lengthAdjust="spacingAndGlyphs">4</text>
<text class="n" x="385.9" y="947.9" textLength="7.9" lengthAdjust="spacingAndGlyphs">6</text>
<text class="n" x="426" y="976.3" textLength="7.9" lengthAdjust="spacingAndGlyphs">4</text>
<text class="n" x="414.3" y="919.4" textLength="7.9" lengthAdjust="spacingAndGlyphs">6</text>
<text class="n" x="454.4" y="947.8" textLength="7.9" lengthAdjust="spacingAndGlyphs">4</text>
<text class="n" x="442.8" y="891" textLength="7.9" lengthAdjust="spacingAndGlyphs">6</text>
<text class="n" x="482.9" y="919.4" textLength="7.9" lengthAdjust="spacingAndGlyphs">4</text>
<text class="n" x="471.2" y="862.5" textLength="7.9" lengthAdjust="spacingAndGlyphs">6</text>
<text class="n" x="511.3" y="890.9" textLength="7.9" lengthAdjust="spacingAndGlyphs">4</text>
<text class="n" x="499.6" y="834" textLength="7.9" lengthAdjust="spacingAndGlyphs">6</text>
<text class="n" x="539.8" y="862.5" textLength="7.9" lengthAdjust="spacingAndGlyphs">4</text>
<text class="n" x="528.1" y="805.6" textLength="7.9" lengthAdjust="spacingAndGlyphs">6</text>
<text class="n" x="568.2" y="834" textLength="7.9" lengthAdjust="spacingAndGlyphs">4</text>
<text class="n" x="556.5" y="777.2" textLength="7.9" lengthAdjust="spacingAndGlyphs">6</text>
<text class="n" x="596.6" y="805.6" textLength="7.9" lengthAdjust="spacingAndGlyphs">4</text>
<text class="n" x="279.9" y="1188.1" textLength="7.9" lengthAdjust="spacingAndGlyphs">5</text>
<text class="n" x="265.9" y="1205.7" textLength="7.9" lengthAdjust="spacingAndGlyphs">5</text>
<text class="n" x="337.1" y="1130.9" textLength="7.9" lengthAdjust="spacingAndGlyphs">5</text>
<text class="n" x="323.1" y="1148.5" textLength="7.9" lengthAdjust="spacingAndGlyphs">5</text>
<text class="n" x="394.3" y="1073.7" textLength="7.9" lengthAdjust="spacingAndGlyphs">5</text>
<text class="n" x="380.3" y="1091.3" textLength="7.9" lengthAdjust="spacingAndGlyphs">5</text>
<text class="n" x="451.5" y="1016.5" textLength="7.9" lengthAdjust="spacingAndGlyphs">5</text>
<text class="n" x="437.5" y="1034.1" textLength="7.9" lengthAdjust="spacingAndGlyphs">5</text>
<text class="n" x="508.8" y="959.2" textLength="7.9" lengthAdjust="spacingAndGlyphs">5</text>
<text class="n" x="494.8" y="976.8" textLength="7.9" lengthAdjust="spacingAndGlyphs">5</text>
<text class="n" x="566" y="902" textLength="7.9" lengthAdjust="spacingAndGlyphs">5</text>
<text class="n" x="552" y="919.6" textLength="7.9" lengthAdjust="spacingAndGlyphs">5</text>
<text class="n" x="623.2" y="844.8" textLength="7.9" lengthAdjust="spacingAndGlyphs">5</text>
<text class="n" x="609.2" y="862.4" textLength="7.9" lengthAdjust="spacingAndGlyphs">5</text>
<text class="n" x="345.3" y="1261.5" textLength="7.9" lengthAdjust="spacingAndGlyphs">3</text>
<text class="n" x="345.8" y="1313.8" textLength="7.9" lengthAdjust="spacingAndGlyphs">6</text>
<text class="n" x="355.4" y="1205.5" textLength="7.9" lengthAdjust="spacingAndGlyphs">5</text>
<text class="n" x="388.1" y="1218.8" textLength="7.9" lengthAdjust="spacingAndGlyphs">3</text>
<text class="n" x="388.6" y="1271" textLength="7.9" lengthAdjust="spacingAndGlyphs">6</text>
<text class="n" x="398.1" y="1162.8" textLength="7.9" lengthAdjust="spacingAndGlyphs">5</text>
<text class="n" x="430.8" y="1176" textLength="7.9" lengthAdjust="spacingAndGlyphs">3</text>
<text class="n" x="431.3" y="1228.3" textLength="7.9" lengthAdjust="spacingAndGlyphs">6</text>
<text class="n" x="440.9" y="1120" textLength="7.9" lengthAdjust="spacingAndGlyphs">5</text>
<text class="n" x="473.6" y="1133.2" textLength="7.9" lengthAdjust="spacingAndGlyphs">3</text>
<text class="n" x="474.1" y="1185.5" textLength="7.9" lengthAdjust="spacingAndGlyphs">6</text>
<text class="n" x="483.6" y="1077.2" textLength="7.9" lengthAdjust="spacingAndGlyphs">5</text>
<text class="n" x="516.3" y="1090.5" textLength="7.9" lengthAdjust="spacingAndGlyphs">3</text>
<text class="n" x="516.8" y="1142.8" textLength="7.9" lengthAdjust="spacingAndGlyphs">6</text>
<text class="n" x="526.4" y="1034.5" textLength="7.9" lengthAdjust="spacingAndGlyphs">5</text>
<text class="n" x="559" y="1047.8" textLength="7.9" lengthAdjust="spacingAndGlyphs">3</text>
<text class="n" x="559.5" y="1100" textLength="7.9" lengthAdjust="spacingAndGlyphs">6</text>
<text class="n" x="569.1" y="991.8" textLength="7.9" lengthAdjust="spacingAndGlyphs">5</text>
<text class="n" x="601.8" y="1005" textLength="7.9" lengthAdjust="spacingAndGlyphs">3</text>
<text class="n" x="602.3" y="1057.3" textLength="7.9" lengthAdjust="spacingAndGlyphs">6</text>
<text class="n" x="611.9" y="949" textLength="7.9" lengthAdjust="spacingAndGlyphs">5</text>
<text class="n" x="644.5" y="962.2" textLength="7.9" lengthAdjust="spacingAndGlyphs">3</text>
<text class="n" x="645" y="1014.5" textLength="7.9" lengthAdjust="spacingAndGlyphs">6</text>
<text class="n" x="654.6" y="906.2" textLength="7.9" lengthAdjust="spacingAndGlyphs">5</text>
<text class="n" x="687.3" y="919.5" textLength="7.9" lengthAdjust="spacingAndGlyphs">3</text>
<text class="n" x="687.8" y="971.8" textLength="7.9" lengthAdjust="spacingAndGlyphs">6</text>
<text class="n" x="697.4" y="863.5" textLength="7.9" lengthAdjust="spacingAndGlyphs">5</text>
<text class="n" x="635.4" y="793.5" textLength="15.8" lengthAdjust="spacingAndGlyphs">10</text>
<text class="n" x="690.6" y="788.4" textLength="15.8" lengthAdjust="spacingAndGlyphs">11</text>
<text class="n" x="749.4" y="828.2" textLength="7.9" lengthAdjust="spacingAndGlyphs">2</text>
<path class="bf" d="M278.5 1254.5L287 1247.4L288.7 1248.8L288.7 1260.8L284.1 1260.8Z"/>
<path class="k" style="stroke-width:4.6" d="M286.4 1256L286.4 1342.2"/>
<path class="k" style="stroke-width:3" d="M284.8 1340.8L298.2 1340.8"/>
<path class="k" style="stroke-width:3" d="M311.6 1340.8L325.2 1340.8"/>
<path class="g2" style="stroke:#b5b5b5;stroke-width:2.4" d="M298.2 1340.8L311.6 1340.8"/>
<path class="t5" d="M298.2 1339.6L311.6 1339.6"/>
<path class="t5" d="M298.2 1342L311.6 1342"/>
<path class="k" style="stroke-width:2.9" d="M323.7 1279.2L323.7 1342.2"/>
<path class="t" d="M322.4 1218.4L322.4 1279.2"/>
<path class="t" d="M324.9 1218.4L324.9 1279.2"/>
<rect class="bf" x="313.1" y="1277.8" width="11.7" height="2.8"/>
<rect class="t5" x="289.4" y="1280.8" width="27.8" height="57.6" rx="12" ry="12"/>
<path class="t5" style="stroke:#1a1a1a;stroke-width:.8" d="M290 1294.5H316.6M290 1297.4H316.6M290 1300.3H316.6M290 1303.2H316.6M290 1306.1H316.6M290 1309.0H316.6M290 1311.9H316.6M290 1314.8H316.6M290 1317.7H316.6M290 1320.6H316.6M290 1323.5H316.6"/>
<rect class="wf" x="301.7" y="1294.8" width="2.9" height="29.7"/>
<path class="t5" d="M295.4 1294.8L295.4 1332.3L310.2 1332.3L310.2 1294.8"/>
<path class="t5" style="stroke-dasharray:1.5 1" d="M289.5 1311L300.8 1304.4"/>
<rect class="t" x="289.6" y="1255" width="7.6" height="24"/>
<rect class="t5" x="291.1" y="1256.6" width="4.6" height="20.8"/>
<rect class="t" x="311.8" y="1255" width="10.2" height="22.6"/>
<path class="g2" style="stroke:#b4b4b4;stroke-width:2.6" d="M313.8 1256L313.8 1277"/>
<path class="t5" d="M315.3 1256.6L315.3 1277"/>
<path class="t5" d="M315.3 1256.6L320.9 1263L322 1277"/>
<path class="t5" d="M304.3 1256.2L304.2 1257.1L304 1258.1L303.7 1259L303.3 1259.8L302.7 1260.6L302.1 1261.3L301.3 1261.8L300.5 1262.3L299.6 1262.7L298.7 1262.9"/>
<path class="t5" d="M310.4 1262.9L309.5 1262.7L308.6 1262.3L307.8 1261.8L307 1261.3L306.4 1260.6L305.8 1259.8L305.4 1259L305.1 1258.1L304.9 1257.1L304.8 1256.2"/>
<path class="g" d="M258.5 1233.9L278.3 1254.7"/>
<path class="g" d="M259.6 1232.8L279.4 1253.6"/>
<path class="g" d="M260.7 1231.7L280.5 1252.5"/>
<path class="t5" d="M287.9 1246.5L297.5 1236.9"/>
<path class="t5" d="M289.3 1247.9L298.9 1238.3"/>
<path class="t5" d="M306 1228.3L319.9 1214.4"/>
<path class="t5" d="M307.4 1229.7L321.3 1215.8"/>
<path class="t5" style="stroke:#555;stroke-width:.5" d="M305.7 1229.3L313 1236.8"/>
<path class="t5" style="stroke:#555;stroke-width:.5" d="M313 1236.8L310.5 1239.5L306 1240.6L301 1239.2L298.6 1241.5L296.8 1239.8"/>
<path class="k" style="stroke-width:4.2" d="M583.1 756.9L615.1 788.9"/>
<path class="g2" style="stroke:#c8c8c8;stroke-width:2.2" d="M615.4 789.1L632.1 805.9"/>
<path class="t5" d="M614.6 789.9L631.3 806.7"/>
<path class="t5" d="M616.2 788.3L632.9 805.1"/>
<path class="bf" d="M630.4 809.6L633.6 806.4L637.1 809.9L633.9 813.1Z"/>
<path class="k" style="stroke-width:3.4" d="M634.1 807.9L658.1 831.9"/>
<path class="bf" d="M653.1 831.9L658.1 826.9L661.4 830.1L656.4 835.1Z"/>
<path class="k" style="stroke-width:4.2" d="M584.1 757.6L601.8 734.7"/>
<path class="wfill" style="stroke:#fff;stroke-width:.9" d="M585.4 757.6L601.8 736.1"/>
<path class="g2" style="stroke:#c4c4c4;stroke-width:2.4" d="M601.8 735.1L609.8 727.2"/>
<path class="k" style="stroke-width:3.8" d="M609 728.1L618.8 717.5"/>
<path class="k" style="stroke-width:3.8" d="M617.6 718L647.8 718"/>
<path class="k" style="stroke-width:3.4" d="M646 716.2L646 724"/>
<path class="g2" style="stroke:#9a9a9a;stroke-width:1.3" d="M647.8 717.2L680.4 717.2"/>
<path class="t5" d="M615.8 787.4L645.5 756.2"/>
<path class="t5" d="M617.2 788.8L646.9 757.6"/>
<path class="t5" d="M614 785.6L643.7 754.4"/>
<path class="t5" d="M615.4 787L645.1 755.8"/>
<path class="t5" d="M587.9 757.3L615.8 785.1"/>
<path class="t5" d="M587.9 757.3L603.2 739.8"/>
<path class="k" style="stroke-width:2" d="M605.1 755.7L623.1 737.8L632.3 746.4L614.4 764.3Z"/>
<path class="t5" d="M609.1 755.4L622.8 741.8L628.4 746.7L614.7 760.3Z"/>
<path class="t5" d="M595.9 754.4L613.8 736.5"/>
<path class="t5" d="M595.9 754.4L615.8 774.3L629.7 760.3"/>
<path class="t5" d="M599.8 754.6L615.8 770.3L625.7 760.3"/>
<path class="t5" style="stroke:#111;stroke-width:.85" d="M600.5 745.0L607.6 752.2M601.9 743.6L609.0 750.8M603.3 742.2L610.5 749.3M604.8 740.7L611.9 747.9M606.2 739.3L613.4 746.4M607.7 737.8L614.8 745.0M609.1 736.4L616.3 743.5M610.6 734.9L617.7 742.1M612.0 733.5L619.2 740.6M613.5 732.0L620.6 739.2M614.9 730.6L622.0 737.8M616.4 729.1L630.9 743.6M617.8 727.7L632.3 742.2M619.2 726.3L633.7 740.8M620.6 724.9L635.1 739.4M614.2 765.8L624.5 776.0M616.0 764.0L626.3 774.2M617.9 762.1L628.1 772.4M619.7 760.3L629.9 770.6M621.5 758.5L631.8 768.7M623.4 756.6L633.6 766.9M625.2 754.8L635.4 765.1M627.0 753.0L637.3 763.2M628.9 751.1L639.1 761.4M630.7 749.3L640.9 759.6M632.5 747.5L642.8 757.7M634.4 745.6L644.6 755.9"/>
<path class="w" d="M646.3 737.1L646.3 756"/>
<path class="wi" d="M646.3 737.1L646.3 756"/>
<path class="t5" style="stroke:#555;stroke-width:.5" d="M644.7 735L643.2 734.7L641.7 734.3L640.4 733.6L639.1 732.8L638 731.8L637 730.7L636.2 729.4L635.5 728.1L635.1 726.6L634.8 725.1"/>
<path class="w" d="M646.3 756L657.5 756L657.5 771.6"/>
<path class="wi" d="M646.3 756L657.5 756L657.5 771.6"/>
<rect class="bf" x="641.4" y="767.9" width="6.3" height="6.4"/>
<path class="w" d="M628.4 771.6L641.4 771.6"/>
<path class="wi" d="M628.4 771.6L641.4 771.6"/>
<path class="w" d="M647.6 771.6L658.4 771.6"/>
<path class="wi" d="M647.6 771.6L658.4 771.6"/>
<path class="w" d="M672.8 771.6L680.7 771.6"/>
<path class="wi" d="M672.8 771.6L680.7 771.6"/>
<path class="t5" d="M659 764L660.1 764.2L661.1 764.5L662.1 765L662.9 765.6L663.7 766.3L664.4 767.2L664.9 768.1L665.3 769.1L665.5 770.1L665.6 771.2"/>
<path class="t5" d="M665.6 771.2L665.7 770.1L665.9 769.1L666.3 768.1L666.8 767.2L667.5 766.3L668.3 765.6L669.1 765L670.1 764.5L671.1 764.2L672.2 764"/>
<path class="w" d="M646.3 774L646.3 798.8"/>
<path class="wi" d="M646.3 774L646.3 798.8"/>
<path class="t5" d="M648 778.5L651 781.5L648 784.5"/>
<path class="t5" d="M648 784.5L651 787.5L648 790.5"/>
<path class="w" d="M637.6 806.8L646.3 798.8"/>
<path class="wi" d="M637.6 806.8L646.3 798.8"/>
<path class="w" d="M646.3 798.8L669.5 821.4"/>
<path class="wi" d="M646.3 798.8L669.5 821.4"/>
<path class="w" d="M669.5 821.4L661.5 829.3"/>
<path class="wi" d="M669.5 821.4L661.5 829.3"/>
<path class="t5" d="M655 805L659 809.5L661.5 807"/>
<path class="t5" d="M659 809.5L663 813.5L665.5 811"/>
<rect class="k" style="stroke-width:3.7" x="682.2" y="718.1" width="27.2" height="53.6"/>
<path class="k" style="stroke-width:3.7" d="M680.4 745.7L711.2 745.7"/>
<rect class="wfill" x="679.9" y="728.5" width="4.4" height="10"/>
<path class="t5" d="M681 728.5L681 738.5"/>
<path class="t5" d="M683.4 728.5L683.4 738.5"/>
<rect class="wfill" x="679.9" y="754.4" width="4.4" height="10"/>
<path class="t5" d="M681 754.4L681 764.4"/>
<path class="t5" d="M683.4 754.4L683.4 764.4"/>
<rect class="t" x="686" y="722.5" width="14.6" height="19.9"/>
<path class="t5" d="M686 722.5L700.6 742.4"/>
<path class="t5" d="M700.6 722.5L686 742.4"/>
<rect class="t5" x="702.6" y="726" width="2.6" height="12.5"/>
<rect class="t" x="686" y="748.8" width="14.6" height="19.9"/>
<path class="t5" d="M686 748.8L700.6 768.7"/>
<path class="t5" d="M700.6 748.8L686 768.7"/>
<rect class="t5" x="702.6" y="752.3" width="2.6" height="12.5"/>
<path class="m" style="stroke:#444;stroke-width:2.5" d="M711 772.5L774 772.5"/>
<path class="k" style="stroke-width:3.6" d="M773.8 772.4L796.2 772.4"/>
<path class="k" style="stroke-width:3.2" d="M794.5 770.6L794.5 815.2"/>
<path class="m" style="stroke:#555;stroke-width:2" d="M795 815.2L795 912.8"/>
<path class="w" d="M681.4 773.6L681.4 791.8"/>
<path class="wi" d="M681.4 773.6L681.4 791.8"/>
<path class="t5" d="M679.8 778L676.8 781L679.8 784"/>
<path class="t5" d="M679.8 784L676.8 787L679.8 790"/>
<path class="w" d="M681.4 791.8L690 800.8"/>
<path class="wi" d="M681.4 791.8L690 800.8"/>
<path class="k" style="stroke-width:2.6" d="M689.4 802L711 780.4"/>
<path class="t5" d="M691.5 797L707 781.5"/>
<path class="k" style="stroke-width:2.6" d="M710 772L710 781.5"/>
<path class="t5" style="stroke:#444;stroke-width:.55" d="M690.5 802.5L694 806L691.5 810L697 811.5L699.8 812L698.5 817L704 817L706 820.5L709 821"/>
<path class="g2" style="stroke:#bbb;stroke-width:2" d="M706.8 816.5L710 819.8"/>
<path class="k" style="stroke-width:2.6" d="M702.6 832.8L710.8 824.2"/>
<path class="t5" style="stroke:#333;stroke-width:.7" d="M711 861.6L795 861.6"/>
<path class="t5" style="stroke:#333;stroke-width:.7" d="M711 863.2L795 863.2"/>
<path class="m" style="stroke:#444;stroke-width:2.6" d="M711 911.5L796 911.5"/>
<path class="k" style="stroke-width:3.2" d="M752.1 866L752.1 912"/>
<rect class="bf" x="747.3" y="864" width="6.4" height="6.3"/>
<rect class="bf" x="790.3" y="864.5" width="5.8" height="5.3"/>
<rect class="bf" x="711" y="866.6" width="5" height="3.2"/>
<rect class="bf" x="711" y="910" width="5" height="2.8"/>
<rect class="bf" x="747.3" y="908.5" width="6.4" height="6.4"/>
<rect class="wfill" x="708.3" y="885.2" width="1.7" height="21.2"/>
<text class="lt" x="754.5" y="1243.5">1</text>
<text class="lt" x="770.8" y="1243.5">公共活动</text>
<text class="lt" x="754.5" y="1269.7">2</text>
<text class="lt" x="770.8" y="1269.7">露台</text>
<text class="lt" x="754.5" y="1295.8">3</text>
<text class="lt" x="770.6" y="1295.8" textLength="8.6" lengthAdjust="spacingAndGlyphs">A</text>
<text class="lt" x="779.2" y="1295.8">户型</text>
<text class="lt" x="754.5" y="1322">4</text>
<text class="lt" x="770.6" y="1322.0" textLength="8.6" lengthAdjust="spacingAndGlyphs">B</text>
<text class="lt" x="779.2" y="1322">户型</text>
<text class="lt" x="754.5" y="1348.1">5</text>
<text class="lt" x="770.8" y="1348.1">卫生间</text>
<text class="lt" x="754.5" y="1374.2">6</text>
<text class="lt" x="770.8" y="1374.2">阳台</text>
<text class="lt" x="754.5" y="1400.4">7</text>
<text class="lt" x="770.6" y="1400.4" textLength="8.6" lengthAdjust="spacingAndGlyphs">C</text>
<text class="lt" x="779.2" y="1400.4">户型</text>
<text class="lt" x="754.5" y="1426.5">8</text>
<text class="lt" x="770.8" y="1426.5">卧室</text>
<text class="lt" x="754.5" y="1452.7">9</text>
<text class="lt" x="770.8" y="1452.7">走廊</text>
<text class="lt" x="948" y="1243.5">10</text>
<text class="lt" x="971.3" y="1243.5">强电</text>
<text class="lt" x="948" y="1269.6">11</text>
<text class="lt" x="971.3" y="1269.6">弱电</text>
<text class="ti" x="495.5" y="1392.4">十层平面图</text>
<path class="k" style="stroke-width:3.2" d="M494.5 1400.5L594 1400.5"/>
<text class="sc" x="494.3" y="1434.7" textLength="5.9" lengthAdjust="spacingAndGlyphs">0</text>
<text class="sc" x="547.9" y="1434.7" textLength="5.9" lengthAdjust="spacingAndGlyphs">5</text>
<text class="sc" x="601.5" y="1434.7" textLength="11.8" lengthAdjust="spacingAndGlyphs">10</text>
<text class="sc" x="655.1" y="1434.7" textLength="11.8" lengthAdjust="spacingAndGlyphs">15</text>
<text class="sc" x="707.7" y="1434.7" textLength="11.8" lengthAdjust="spacingAndGlyphs">20</text>
<text class="sc" style="font-size:14px" x="707" y="1458">米</text>
<rect class="wf" style="stroke:#666;stroke-width:.8;fill:#eee" x="494" y="1442.4" width="53.9" height="3.8"/>
<rect class="bf" x="547.9" y="1439" width="53.6" height="4.2"/>
<rect class="wf" style="stroke:#666;stroke-width:.8;fill:#eee" x="601.5" y="1442.4" width="53.6" height="3.8"/>
<rect class="bf" x="655.1" y="1439" width="53.7" height="4.2"/>
</svg>
</body></html>
